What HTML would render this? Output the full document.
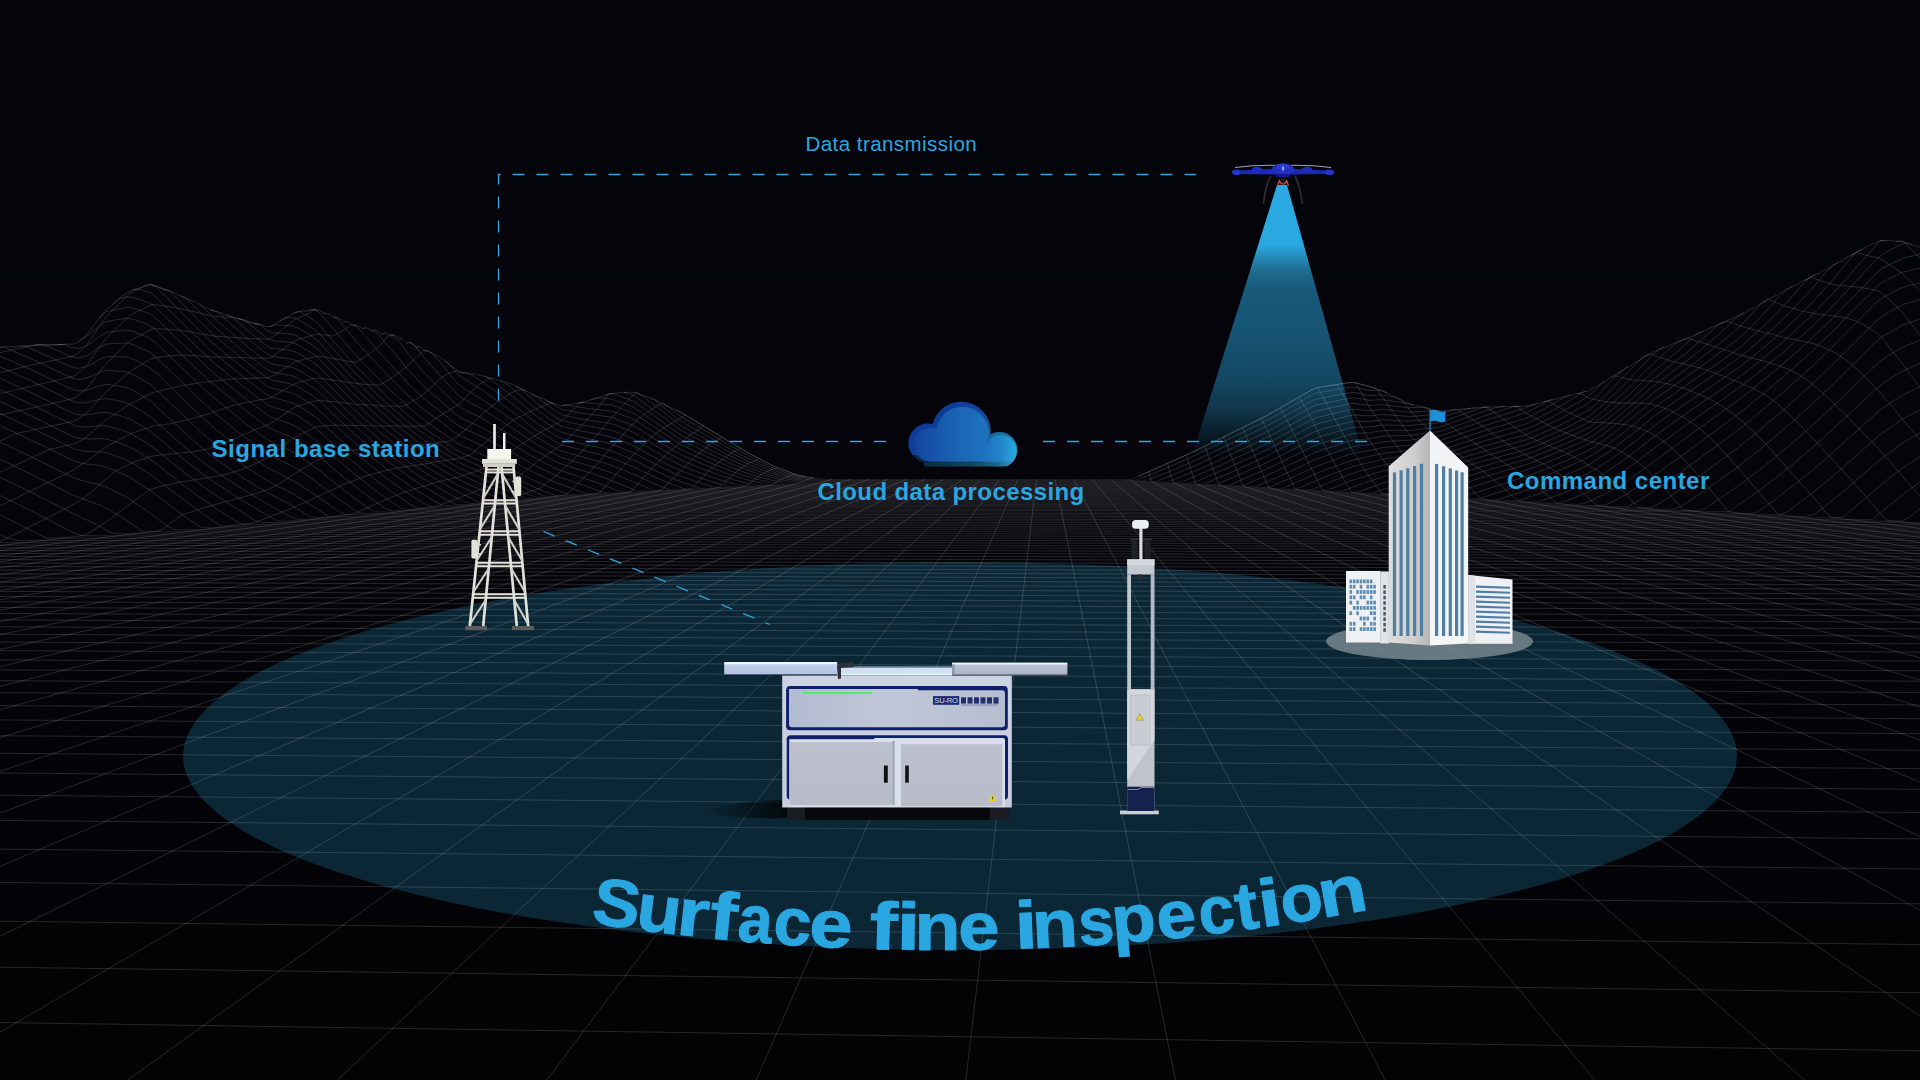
<!DOCTYPE html>
<html><head><meta charset="utf-8"><style>
html,body{margin:0;padding:0;background:#04040a;}
body{width:1920px;height:1080px;overflow:hidden;position:relative;font-family:"Liberation Sans",sans-serif;}
svg{position:absolute;left:0;top:0;}
.lbl{position:absolute;color:#2aa7e1;font-weight:bold;font-size:24px;white-space:nowrap;line-height:1;}
</style></head><body>
<svg width="1920" height="1080" viewBox="0 0 1920 1080">
<defs>
<linearGradient id="bg" x1="0" y1="0" x2="0" y2="1">
<stop offset="0" stop-color="#04040b"/><stop offset="0.45" stop-color="#04040a"/><stop offset="1" stop-color="#030305"/>
</linearGradient>
<linearGradient id="beam" x1="0" y1="185" x2="0" y2="452" gradientUnits="userSpaceOnUse">
<stop offset="0" stop-color="#2aa9e2"/><stop offset="0.225" stop-color="#2aa8e0"/><stop offset="0.32" stop-color="#1e6d90"/>
<stop offset="0.395" stop-color="#175878"/><stop offset="0.55" stop-color="#165474"/><stop offset="0.73" stop-color="#134862"/><stop offset="0.85" stop-color="#0f3348"/><stop offset="0.955" stop-color="#081620"/><stop offset="1" stop-color="#060a12"/>
</linearGradient>
</defs>
<rect width="1920" height="1080" fill="url(#bg)"/>
<ellipse cx="960" cy="756" rx="777" ry="194" fill="#0b2736"/>
<polygon points="1277,185 1287,185 1362,452 1193,452" fill="url(#beam)"/>
<g fill="none" stroke="#fff" stroke-width="1">
<path d="M814.0 477.7 L823.2 479.2 L827.9 479.3 L1125.2 479.6 L1129.8 479.5 L1134.5 478.1" stroke-opacity="0.07"/>
<path d="M811.8 478.2 L825.8 479.9 L1130.7 480.2 L1135.4 480.0 L1140.1 478.6" stroke-opacity="0.071"/>
<path d="M809.5 478.9 L823.6 480.4 L828.3 480.4 L1141.1 480.8 L1145.9 480.6 L1150.6 479.0" stroke-opacity="0.072"/>
<path d="M802.5 479.2 L826.2 481.0 L1151.7 481.4 L1156.5 481.4 L1161.4 479.6" stroke-opacity="0.073"/>
<path d="M800.1 480.0 L824.1 481.6 L1167.4 482.0 L1172.3 480.3" stroke-opacity="0.074"/>
<path d="M797.7 480.9 L821.9 482.2 L1178.5 482.7 L1183.5 481.1" stroke-opacity="0.075"/>
<path d="M790.3 481.3 L800.0 482.4 L814.7 482.9 L1189.9 483.3 L1194.9 482.0" stroke-opacity="0.077"/>
<path d="M782.7 482.0 L792.6 483.1 L802.5 483.5 L1201.5 484.0 L1206.5 482.8" stroke-opacity="0.078"/>
<path d="M770.1 482.2 L785.0 484.1 L1213.3 484.7 L1218.4 483.7" stroke-opacity="0.079"/>
<path d="M762.2 483.3 L772.2 484.8 L1225.4 485.3 L1230.5 484.7" stroke-opacity="0.08"/>
<path d="M749.0 483.7 L759.2 485.4 L1237.7 486.0 L1243.0 485.6" stroke-opacity="0.081"/>
<path d="M735.6 484.2 L740.7 485.4 L745.9 486.1 L1255.6 486.6" stroke-opacity="0.082"/>
<path d="M721.9 484.8 L727.1 486.2 L732.3 486.8 L1268.6 487.5" stroke-opacity="0.083"/>
<path d="M713.2 487.0 L718.4 487.5 L1281.9 488.3 L1287.3 486.4" stroke-opacity="0.084"/>
<path d="M698.9 487.8 L704.2 488.2 L1295.5 489.0 L1300.9 487.3" stroke-opacity="0.085"/>
<path d="M684.4 488.7 L1309.3 489.8 L1314.9 488.4" stroke-opacity="0.086"/>
<path d="M669.5 489.7 L1323.6 490.6 L1329.1 489.5" stroke-opacity="0.088"/>
<path d="M648.8 488.5 L654.3 490.5 L1338.1 491.4 L1343.8 490.6" stroke-opacity="0.089"/>
<path d="M633.2 489.4 L638.7 491.2 L1353.0 492.3 L1358.7 491.8" stroke-opacity="0.09"/>
<path d="M617.3 490.5 L622.8 492.0 L1368.3 493.2 L1374.1 492.9" stroke-opacity="0.091"/>
<path d="M600.9 491.6 L606.6 492.9 L1389.8 494.0" stroke-opacity="0.092"/>
<path d="M584.2 492.8 L589.9 493.7 L1405.9 495.0 L1411.8 493.2" stroke-opacity="0.093"/>
<path d="M567.1 493.9 L572.9 494.6 L1422.4 495.9 L1428.4 494.4" stroke-opacity="0.094"/>
<path d="M555.4 495.5 L1439.3 496.8 L1445.4 495.6" stroke-opacity="0.095"/>
<path d="M543.5 495.8 L549.4 496.4 L1456.7 497.8 L1462.9 496.8" stroke-opacity="0.096"/>
<path d="M531.3 495.8 L537.2 497.3 L1474.5 498.8 L1480.8 498.0" stroke-opacity="0.097"/>
<path d="M524.8 498.3 L1492.8 499.9 L1499.1 499.3" stroke-opacity="0.098"/>
<path d="M512.0 498.5 L518.1 499.3 L1518.0 500.8" stroke-opacity="0.1"/>
<path d="M498.8 498.5 L505.0 500.3 L1537.4 502.0 L1543.9 500.1" stroke-opacity="0.101"/>
<path d="M491.7 501.3 L1557.3 503.1 L1564.0 501.6" stroke-opacity="0.102"/>
<path d="M477.9 501.6 L484.3 502.4 L1577.8 504.3 L1584.6 503.3" stroke-opacity="0.103"/>
<path d="M463.8 501.6 L470.3 503.5 L1598.9 505.5 L1605.7 505.0" stroke-opacity="0.104"/>
<path d="M455.9 504.6 L1627.5 506.7" stroke-opacity="0.105"/>
<path d="M441.0 504.8 L447.7 505.8 L1649.9 508.0" stroke-opacity="0.106"/>
<path d="M432.6 506.9 L1673.0 509.2" stroke-opacity="0.107"/>
<path d="M417.0 508.2 L1696.8 510.6 L1704.1 509.3" stroke-opacity="0.108"/>
<path d="M401.0 508.3 L407.9 509.4 L1728.7 511.7" stroke-opacity="0.109"/>
<path d="M391.5 510.7 L1754.1 513.4" stroke-opacity="0.11"/>
<path d="M374.7 512.0 L1780.3 514.8" stroke-opacity="0.112"/>
<path d="M357.3 512.2 L364.6 513.4 L1807.3 516.3" stroke-opacity="0.113"/>
<path d="M346.8 514.8 L1835.2 517.9 L1843.1 516.9" stroke-opacity="0.114"/>
<path d="M328.5 516.3 L1872.1 519.5" stroke-opacity="0.115"/>
<path d="M309.6 516.6 L317.1 517.8 L1902.1 521.2" stroke-opacity="0.116"/>
<path d="M297.7 519.3 L1933.1 522.9" stroke-opacity="0.117"/>
<path d="M277.7 520.9 L1965.2 524.7 L1973.6 522.9" stroke-opacity="0.118"/>
<path d="M257.0 521.5 L264.9 522.6 L1998.4 526.5" stroke-opacity="0.119"/>
<path d="M243.7 524.3 L1997.7 528.3" stroke-opacity="0.12"/>
<path d="M221.7 526.1 L1997.1 530.2" stroke-opacity="0.121"/>
<path d="M199.0 526.6 L207.3 527.9 L1996.4 532.2" stroke-opacity="0.123"/>
<path d="M175.5 529.8 L1995.7 534.2" stroke-opacity="0.124"/>
<path d="M142.5 531.7 L1995.0 536.3" stroke-opacity="0.125"/>
<path d="M117.1 533.8 L1994.2 538.5" stroke-opacity="0.126"/>
<path d="M81.8 535.8 L1993.5 540.8" stroke-opacity="0.127"/>
<path d="M45.3 537.5 L54.3 538.0 L1992.7 543.1" stroke-opacity="0.128"/>
<path d="M16.5 540.3 L1991.8 545.6" stroke-opacity="0.129"/>
<path d="M-22.8 541.8 L-13.4 542.6 L1990.9 548.1" stroke-opacity="0.13"/>
<path d="M-54.1 544.9 L1990.0 550.8" stroke-opacity="0.131"/>
<path d="M-76.8 547.6 L1999.9 553.6" stroke-opacity="0.132"/>
<path d="M-70.6 550.4 L1999.1 556.5" stroke-opacity="0.133"/>
<path d="M-74.4 553.2 L1998.3 559.5" stroke-opacity="0.135"/>
<path d="M-78.2 556.2 L1997.5 562.7" stroke-opacity="0.136"/>
<path d="M-71.6 559.4 L1996.6 566.0" stroke-opacity="0.137"/>
<path d="M-75.7 562.7 L1995.7 569.5" stroke-opacity="0.138"/>
<path d="M-79.9 566.2 L1994.8 573.1" stroke-opacity="0.139"/>
<path d="M-44.8 1089.6 L1964.9 1122.4 M-76.9 1021.4 L1972.0 1051.5 M-60.9 966.4 L1977.7 993.5 M-47.6 920.6 L1982.5 945.3 M-72.1 881.6 L1986.6 904.6 M-59.9 848.5 L1990.1 869.7 M-49.4 819.9 L1993.1 839.6 M-69.1 794.6 L1995.7 813.2 M-59.2 772.5 L1998.0 790.0 M-76.2 752.7 L1971.7 769.1 M-67.0 735.2 L1975.1 750.7 M-58.8 719.5 L1978.1 734.1 M-73.3 705.1 L1980.8 719.1 M-65.5 692.2 L1983.2 705.4 M-78.5 680.2 L1985.5 693.0 M-71.1 669.4 L1987.5 681.6 M-64.4 659.5 L1989.4 671.1 M-75.9 650.2 L1991.2 661.5 M-69.5 641.7 L1992.8 652.5 M-80.0 633.8 L1994.3 644.2 M-73.8 626.4 L1995.7 636.5 M-68.1 619.6 L1997.0 629.2 M-77.6 613.1 L1998.2 622.5 M-72.2 607.1 L1999.4 616.2 M-67.0 601.5 L1985.0 610.2 M-75.7 596.1 L1986.5 604.6 M-70.8 591.1 L1987.9 599.3 M-78.9 586.4 L1989.2 594.3 M-74.2 581.9 L1990.4 589.6 M-69.6 577.7 L1991.6 585.2 M-77.2 573.6 L1992.7 580.9 M-72.8 569.8 L1993.8 576.9 M-73.2 535.5 L-54.1 544.9 M-79.1 514.4 L-22.8 541.8 M-75.6 497.8 L-29.6 519.8 L7.3 538.1 L16.5 540.3 M-72.2 480.3 L-9.0 510.2 L45.3 537.5 M-77.8 459.2 L1.9 496.4 L37.4 514.0 L72.9 532.4 L81.8 535.8 M-74.5 442.8 L-13.7 470.7 L21.1 487.3 L73.4 513.6 L90.9 521.8 L99.6 526.3 L108.4 531.6 L117.1 533.8 M-79.8 422.7 L-62.8 430.9 L5.4 461.9 L31.0 474.1 L73.8 495.5 L99.6 505.1 L108.2 509.2 L125.3 519.6 L142.5 531.7 M-76.6 407.2 L-59.9 415.3 L7.1 445.4 L32.2 457.3 L74.3 478.0 L82.7 480.7 L99.5 484.8 L108.0 487.8 L124.8 496.3 L133.3 501.5 L150.1 513.2 L167.0 525.8 L175.5 529.8 M-73.5 392.6 L-57.1 400.4 L0.5 425.8 L33.4 441.2 L74.7 461.3 L82.9 463.5 L99.5 465.5 L107.8 467.5 L124.3 474.5 L132.6 478.9 L149.2 489.7 L182.4 514.7 L199.0 526.6 M-78.6 378.3 L-62.5 386.1 L2.2 414.3 L34.5 429.5 L75.1 449.2 L83.2 451.0 L91.3 451.6 L99.5 451.7 L107.6 453.0 L123.8 459.0 L132.0 462.9 L148.3 473.0 L197.2 509.8 L213.6 521.2 L221.7 526.1 M-75.5 368.3 L-59.7 375.8 L-28.0 389.2 L3.8 403.2 L27.7 414.3 L67.5 433.9 L75.5 437.5 L83.4 438.9 L91.4 439.0 L99.4 438.5 L107.4 439.2 L123.4 444.4 L131.4 447.9 L147.4 457.5 L155.4 463.2 L187.5 488.2 L211.5 505.5 L235.7 521.4 L243.7 524.3 M-72.6 358.4 L-57.0 365.7 L-25.9 378.6 L5.4 392.2 L28.8 403.1 L68.0 422.5 L75.8 426.0 L83.7 427.0 L91.5 426.7 L99.4 425.6 L107.2 425.9 L122.9 430.4 L130.8 433.5 L146.5 442.9 L154.4 448.3 L185.9 473.7 L209.6 491.2 L233.3 506.7 L257.0 521.5 M-69.8 352.1 L-62.1 352.3 L-8.5 374.6 L30.0 392.0 L68.5 411.1 L76.2 414.4 L83.9 415.1 L91.6 414.2 L99.3 412.7 L107.1 412.4 L122.5 416.4 L130.2 419.1 L145.7 428.4 L153.5 433.7 L184.4 459.9 L200.0 472.0 L215.5 483.2 L246.6 503.0 L269.9 516.8 L277.7 520.9 M1973.6 522.9 L1999.0 504.9 M-44.5 350.8 L-36.9 351.6 L0.8 367.3 L31.1 380.9 L69.0 399.7 L76.5 402.6 L84.1 403.0 L91.7 401.5 L99.3 399.3 L106.9 398.5 L122.1 401.7 L129.7 404.2 L144.9 413.2 L152.5 418.3 L167.8 432.2 L190.6 452.1 L205.9 464.4 L221.2 475.4 L244.1 490.1 L267.1 503.7 L290.0 516.6 L297.7 519.3 M1933.1 522.9 L1941.4 519.7 L1966.3 501.2 L1999.6 478.8 M-27.3 349.4 L-19.9 348.6 L-12.5 350.7 L32.2 370.1 L69.4 388.2 L76.9 390.8 L84.3 390.7 L91.8 388.6 L99.3 385.8 L106.7 384.3 L121.7 386.6 L129.2 388.5 L136.7 392.5 L151.6 401.8 L189.1 436.7 L204.1 449.8 L219.2 461.5 L241.7 477.0 L256.8 486.4 L271.8 495.1 L286.9 502.8 L294.5 507.1 L309.6 516.6 M1902.1 521.2 L1910.2 516.4 L1926.5 503.6 L1951.0 485.8 L1967.4 474.8 L1991.9 459.6 M-3.4 347.4 L3.9 347.0 L33.2 359.7 L69.9 377.1 L77.2 379.3 L84.5 378.7 L91.9 376.0 L99.2 372.4 L106.6 370.2 L121.3 371.3 L128.7 372.6 L136.0 376.1 L150.8 384.7 L202.4 433.4 L217.2 445.9 L232.0 457.1 L254.2 472.4 L269.1 481.7 L291.3 492.9 L298.7 497.3 L328.5 516.3 M1872.1 519.5 L1904.2 493.4 L1928.3 475.9 L1944.3 465.1 L1960.4 455.1 L1992.6 436.5 M19.8 345.9 L27.0 346.7 L70.3 366.6 L77.5 368.3 L84.7 367.2 L92.0 363.9 L99.2 359.6 L106.5 356.7 L120.9 356.7 L128.2 357.2 L135.4 360.1 L142.7 363.9 L149.9 367.7 L157.2 373.9 L193.5 409.2 L215.3 429.1 L244.5 451.7 L266.4 467.0 L295.6 482.1 L317.5 496.5 L339.5 512.0 L346.8 514.8 M1843.1 516.9 L1882.5 483.7 L1898.3 471.3 L1906.2 465.6 L1929.9 450.3 L1945.7 440.7 L1961.6 431.8 L1993.3 414.9 M35.2 345.4 L42.3 344.7 L49.4 347.0 L70.7 356.6 L77.8 358.0 L84.9 356.5 L92.1 352.6 L99.2 347.7 L106.3 344.1 L113.4 343.4 L127.7 343.0 L134.8 345.3 L149.1 351.9 L156.3 357.4 L199.2 398.9 L213.5 412.1 L242.2 435.2 L263.7 451.1 L270.9 455.8 L292.5 466.1 L299.7 470.6 L314.1 480.4 L335.7 496.8 L357.3 512.2 M1807.3 516.3 L1815.1 514.1 L1822.8 508.2 L1846.1 489.2 L1877.1 462.2 L1884.9 456.0 L1900.4 444.6 L1908.2 439.7 L1939.3 421.9 L1993.9 394.0 M57.1 344.8 L64.1 344.4 L71.1 347.4 L78.1 348.4 L85.1 346.5 L92.1 342.1 L99.2 336.7 L106.2 332.5 L113.2 331.4 L127.2 330.0 L134.3 331.7 L148.3 337.5 L155.4 342.4 L211.7 396.1 L247.1 424.6 L268.3 440.4 L289.5 450.2 L296.6 454.0 L303.7 458.9 L317.9 469.1 L339.2 486.5 L353.4 497.4 L367.6 507.6 L374.7 512.0 M1780.3 514.8 L1787.9 511.6 L1810.8 494.3 L1833.6 475.6 L1879.5 435.1 L1902.4 419.1 L1940.8 399.1 L1986.9 377.2 L1994.5 373.1 M78.4 341.7 L92.2 332.4 L99.1 326.6 L106.0 321.8 L113.0 320.4 L126.8 318.2 L133.7 319.3 L147.6 324.6 L154.5 328.8 L210.0 381.6 L251.8 415.2 L265.7 425.6 L272.7 429.6 L286.6 435.1 L293.6 438.3 L300.6 442.7 L314.6 452.5 L342.5 476.4 L363.5 493.0 L384.5 508.0 L391.5 510.7 M1754.1 513.4 L1761.6 509.1 L1776.6 498.4 L1806.6 475.1 L1829.1 456.0 L1874.3 415.1 L1881.8 408.6 L1889.3 403.6 L1904.4 394.1 L1942.2 376.2 L1987.6 355.6 L1995.1 351.5 M99.1 318.2 L105.9 311.9 L126.4 307.3 L133.2 307.9 L146.8 312.7 L153.7 316.3 L208.4 368.4 L215.2 374.5 L249.5 401.8 L270.1 416.7 L290.7 424.1 L297.6 427.6 L311.3 437.0 L318.2 442.3 L338.9 460.8 L359.6 478.3 L380.3 494.1 L401.0 508.3 M1728.7 511.7 L1758.2 491.2 L1780.3 474.3 L1795.1 462.4 L1824.7 436.8 L1876.6 388.4 L1884.0 382.6 L1898.9 373.1 L1906.3 369.3 L1951.0 349.7 L1988.3 333.9 L1995.7 330.0 M112.5 304.7 L119.2 298.6 L125.9 297.0 L132.7 297.2 L146.1 301.7 L152.8 304.7 L213.5 362.6 L247.3 389.6 L267.6 404.7 L274.3 407.6 L287.9 411.6 L294.7 414.3 L301.4 418.3 L315.0 427.6 L348.9 458.1 L369.3 474.9 L382.9 485.5 L396.6 495.2 L410.2 504.3 L417.0 508.2 M1704.1 509.3 L1740.4 484.4 L1762.2 467.8 L1784.0 450.1 L1805.9 431.2 L1827.8 411.3 L1878.9 362.1 L1886.2 357.0 L1900.9 348.2 L1908.2 345.0 L1952.2 327.2 L1988.9 313.1 L1996.3 309.3 M132.2 289.8 L138.8 289.0 L152.0 293.6 L211.8 351.4 L251.8 383.6 L265.1 393.4 L271.8 397.3 L291.8 402.6 L298.5 405.8 L311.9 414.5 L318.5 419.5 L338.6 438.1 L358.7 456.0 L385.5 477.4 L405.7 491.9 L419.1 500.6 L425.8 504.6 L432.6 506.9 M1673.0 509.2 L1680.2 507.0 L1708.8 487.8 L1737.4 467.1 L1766.1 444.3 L1794.8 419.7 L1816.3 400.1 L1830.7 386.5 L1873.9 343.8 L1881.1 337.3 L1902.8 324.8 L1917.2 319.9 L1953.4 306.5 L1989.6 294.0 L1996.8 290.4 M151.3 284.4 L157.8 288.9 L210.2 340.8 L223.3 351.9 L249.6 373.1 L269.3 387.5 L289.1 392.3 L295.6 394.5 L315.4 406.9 L355.0 443.2 L381.4 464.9 L394.7 474.9 L414.5 488.9 L427.8 497.2 L441.0 504.8 M1649.9 508.0 L1657.0 504.9 L1664.0 500.5 L1692.2 481.4 L1734.5 450.4 L1755.7 433.5 L1784.0 409.5 L1812.3 383.9 L1833.6 363.5 L1876.2 320.8 L1883.3 315.2 L1897.5 307.2 L1904.6 304.0 L1918.9 299.9 L1954.5 288.2 L1983.1 279.4 L1990.2 277.1 L1997.4 273.6 M163.4 289.1 L169.9 291.0 L202.2 323.7 L215.1 336.2 L247.5 362.9 L266.9 377.7 L273.4 380.5 L286.4 382.9 L292.9 384.5 L299.4 387.6 L312.4 395.7 L318.9 400.5 L338.4 419.1 L357.9 436.9 L377.5 453.0 L390.5 463.2 L410.1 477.6 L423.2 486.3 L442.8 497.8 L455.9 504.6 M1627.5 506.7 L1634.4 503.1 L1648.3 494.7 L1676.1 475.8 L1738.6 429.5 L1752.6 418.3 L1787.4 388.6 L1815.4 363.3 L1829.4 349.9 L1878.4 300.6 L1885.4 296.1 L1899.4 288.7 L1906.4 286.2 L1920.5 282.8 L1990.8 261.7 L1997.9 262.6 M181.6 296.1 L188.0 299.9 L213.5 326.1 L245.4 353.0 L264.6 367.9 L271.0 371.9 L290.2 375.3 L296.6 377.4 L315.8 389.2 L354.3 425.4 L380.0 447.0 L392.9 457.2 L412.2 471.3 L425.1 479.9 L450.9 494.9 L463.8 501.6 M1605.7 505.0 L1619.4 498.1 L1626.2 494.2 L1646.7 480.9 L1687.8 451.3 L1735.8 415.8 L1749.5 405.0 L1783.9 376.4 L1811.5 351.8 L1832.2 332.0 L1859.8 303.7 L1880.5 283.4 L1901.3 272.7 L1908.2 270.8 L1922.0 267.7 L1956.7 257.4 L1963.7 256.2 L1970.6 258.8 M199.3 304.0 L205.6 309.5 L211.9 315.9 L218.2 321.6 L237.1 337.8 L249.7 348.4 L268.6 363.0 L274.9 364.6 L287.6 366.5 L293.9 367.9 L300.2 371.0 L312.8 378.8 L319.2 383.6 L338.1 402.2 L357.1 420.1 L382.5 441.6 L407.9 461.1 L427.0 473.9 L446.1 485.2 L458.8 492.2 L477.9 501.6 M1584.6 503.3 L1591.3 500.5 L1604.7 494.1 L1618.2 486.5 L1631.7 477.8 L1706.0 423.4 L1739.8 399.1 L1746.6 393.8 L1780.5 366.1 L1807.7 342.2 L1828.1 322.9 L1875.8 273.8 L1882.6 268.1 L1903.1 258.0 L1916.7 255.0 L1930.4 251.0 L1937.2 250.7 M210.4 309.8 L216.6 311.5 L247.6 338.5 L266.3 353.4 L272.5 356.5 L291.2 358.9 L297.5 361.1 L316.2 372.7 L347.4 403.3 L359.9 414.9 L384.9 436.2 L416.3 460.1 L428.8 468.3 L453.9 483.1 L460.2 486.5 L491.7 501.3 M1564.0 501.6 L1577.2 496.5 L1590.5 490.8 L1603.8 483.7 L1617.1 475.6 L1630.4 466.4 L1650.3 451.1 L1683.6 426.8 L1743.7 384.3 L1783.9 351.8 L1810.7 327.7 L1830.8 308.1 L1877.9 257.8 L1884.6 253.1 L1898.1 245.8 L1904.8 242.9 L1911.6 244.5 M227.3 315.0 L233.4 318.0 L251.8 333.9 L264.1 343.8 L270.2 348.1 L288.7 350.2 L294.8 351.6 L301.0 354.8 L313.3 362.3 L319.4 367.2 L350.3 398.4 L368.8 415.3 L387.3 431.1 L412.0 450.4 L424.4 459.1 L455.4 477.8 L498.8 498.5 M1543.9 500.1 L1563.6 492.9 L1583.2 484.6 L1589.7 481.6 L1602.9 474.1 L1622.5 461.0 L1635.6 451.1 L1655.4 435.6 L1675.1 421.3 L1740.9 375.9 L1760.7 360.3 L1780.6 343.8 L1800.4 326.1 L1813.6 313.4 L1833.5 292.9 L1880.0 240.7 L1886.6 240.6 M237.7 318.8 L243.7 320.0 L249.8 324.3 L268.0 339.1 L274.0 340.8 L292.2 342.5 L298.3 344.9 L310.5 352.2 L316.5 356.3 L353.0 393.6 L371.3 410.2 L383.5 421.0 L407.9 440.8 L420.1 449.8 L456.8 472.6 L512.0 498.5 M1518.0 500.8 L1543.8 492.0 L1563.2 484.4 L1582.5 476.0 L1589.0 473.0 L1595.5 469.2 L1608.4 460.9 L1621.4 451.7 L1634.3 441.8 L1653.8 426.1 L1673.2 412.2 L1738.2 368.0 L1751.3 357.9 L1764.3 347.1 L1783.9 330.1 L1796.9 317.8 L1810.0 304.7 L1829.6 283.6 L1855.8 252.3 L1862.3 249.1 M253.8 323.4 L259.8 324.5 L265.8 329.4 L271.7 332.8 L289.7 333.9 L295.7 335.2 L313.7 345.8 L319.7 350.9 L349.7 382.7 L367.8 399.9 L391.8 421.1 L415.9 440.5 L428.0 448.9 L458.2 467.6 L512.6 493.1 L524.8 498.3 M1499.1 499.3 L1537.3 486.5 L1569.2 473.7 L1588.3 465.0 L1594.7 461.2 L1607.4 452.7 L1620.2 443.4 L1633.0 433.4 L1652.2 417.6 L1677.8 399.5 L1735.6 360.1 L1748.4 350.2 L1761.3 339.1 L1780.6 321.4 L1799.9 301.9 L1812.8 287.7 L1825.7 272.6 L1832.2 265.9 L1838.7 262.1 M269.5 326.6 L275.4 325.0 L287.3 325.4 L293.2 326.1 L299.1 328.5 L310.9 335.7 L316.9 339.8 L352.4 377.8 L358.4 383.8 L382.1 406.0 L400.0 420.9 L405.9 426.3 L423.8 440.0 L459.5 462.7 L477.4 470.7 L513.3 487.8 L531.3 495.8 M1480.8 498.0 L1524.7 483.8 L1549.8 474.3 L1568.7 466.4 L1587.6 457.8 L1600.2 449.9 L1619.1 436.1 L1631.7 426.1 L1650.7 410.2 L1657.0 405.5 L1720.3 361.6 L1739.3 347.9 L1758.4 331.0 L1777.5 312.2 L1790.2 298.6 L1802.9 284.0 L1809.3 278.0 L1815.6 274.3 M279.0 321.9 L284.9 318.1 L290.7 317.3 L296.6 318.6 L314.1 329.1 L319.9 334.3 L355.1 372.9 L384.4 401.1 L407.9 421.6 L419.7 430.9 L455.0 454.5 L460.9 457.9 L478.5 465.6 L519.9 485.6 L543.5 495.8 M1462.9 496.8 L1531.0 474.8 L1549.6 467.6 L1568.3 459.8 L1586.9 451.2 L1593.1 447.6 L1605.6 438.9 L1618.0 429.5 L1655.5 398.7 L1711.7 358.8 L1736.8 339.9 L1743.0 334.5 L1755.6 322.3 L1768.1 309.0 L1780.7 294.9 L1786.9 289.4 L1793.2 285.8 M294.1 312.8 L299.9 311.6 L311.4 318.6 L317.2 322.7 L351.9 361.8 L369.2 379.4 L386.6 396.1 L409.8 416.8 L421.4 426.2 L427.3 430.3 L456.3 449.9 L462.1 453.0 L479.6 460.6 L532.1 486.2 L543.8 491.1 L555.4 495.5 M1445.4 495.6 L1488.2 481.8 L1531.0 468.6 L1549.4 461.4 L1567.8 453.7 L1586.2 445.3 L1592.4 441.9 L1604.7 433.1 L1617.0 423.6 L1653.9 392.5 L1691.0 365.7 L1721.9 341.9 L1740.4 326.0 L1759.0 305.9 L1765.2 300.9 M308.8 310.1 L314.5 309.5 L320.2 313.5 L354.5 353.7 L383.1 383.3 L411.7 409.9 L423.2 419.4 L428.9 423.5 L457.6 443.5 L480.6 453.8 L532.5 479.9 L549.8 487.4 L567.1 493.9 M1428.4 494.4 L1488.7 475.5 L1525.0 465.0 L1531.0 462.9 L1567.4 448.2 L1585.6 439.9 L1591.7 436.6 L1603.8 427.8 L1616.0 418.2 L1634.2 402.9 L1652.5 386.7 L1689.0 359.1 L1701.2 349.3 L1719.5 333.9 L1737.9 316.8 L1744.0 312.8 M334.4 316.5 L340.0 321.8 L357.0 342.3 L368.3 354.7 L385.3 372.8 L407.9 395.3 L419.2 405.6 L424.9 410.3 L441.9 422.5 L453.3 431.3 L458.9 435.2 L481.7 445.2 L538.6 474.9 L555.7 482.5 L584.2 492.8 M1411.8 493.2 L1483.3 471.4 L1525.1 459.7 L1531.1 457.6 L1567.0 443.1 L1585.0 434.9 L1591.0 431.7 L1603.0 422.8 L1621.0 408.2 L1633.0 397.7 L1651.0 381.0 L1687.1 352.2 L1705.2 336.5 L1717.3 325.4 L1723.3 322.4 M353.9 324.8 L359.5 329.4 L381.8 355.1 L398.6 372.8 L409.8 385.2 L415.4 390.7 L426.6 400.8 L437.8 409.3 L454.6 423.0 L460.2 426.9 L482.6 436.8 L510.7 451.8 L533.3 464.6 L550.1 472.9 L561.4 477.7 L584.0 485.3 L600.9 491.6 M1389.8 494.0 L1407.4 488.3 L1442.7 478.5 L1483.9 465.9 L1525.2 454.7 L1537.0 450.4 L1554.7 443.2 L1584.3 430.0 L1590.3 426.8 L1608.1 413.0 L1619.9 403.0 L1631.8 392.2 L1649.6 375.0 L1685.3 344.7 L1697.2 333.8 L1703.2 331.2 M372.9 330.0 L378.4 334.4 L383.9 341.2 L400.5 360.2 L406.1 367.3 L422.6 385.2 L455.9 414.5 L461.4 418.2 L483.6 428.4 L511.4 443.9 L533.6 457.2 L555.9 468.5 L561.5 470.8 L594.9 481.8 L617.3 490.5 M1374.1 492.9 L1385.6 488.7 L1397.2 485.1 L1443.7 473.0 L1484.5 460.7 L1525.3 449.9 L1537.0 445.5 L1554.5 438.3 L1583.7 424.9 L1589.6 421.7 L1601.3 412.7 L1624.8 391.8 L1654.1 362.6 L1677.6 342.0 L1683.5 339.6 M391.5 335.0 L397.0 338.7 L407.9 353.4 L424.3 372.9 L457.1 405.3 L462.6 408.9 L479.1 416.8 L484.6 419.9 L512.0 436.0 L534.0 450.0 L556.0 461.8 L561.5 464.1 L594.6 474.3 L605.6 478.1 L633.2 489.4 M1358.7 491.8 L1375.9 485.5 L1387.4 481.8 L1398.8 478.7 L1439.0 469.4 L1485.0 455.7 L1525.4 445.0 L1542.7 438.2 L1565.8 428.0 L1588.9 416.3 L1594.7 411.8 L1606.3 401.8 L1623.7 385.2 L1635.3 373.3 L1652.7 354.5 L1658.5 349.8 L1664.3 347.1 M409.7 341.8 L415.1 346.0 L425.9 359.6 L458.4 395.5 L463.8 399.1 L480.1 407.8 L485.5 411.2 L512.6 428.2 L534.3 442.9 L550.7 452.2 L561.5 457.6 L594.2 467.1 L610.6 472.4 L648.8 488.5 M1343.8 490.6 L1360.7 484.0 L1383.4 476.8 L1394.7 474.0 L1440.1 464.3 L1485.6 450.6 L1525.5 440.0 L1531.2 437.9 L1548.3 430.4 L1565.4 422.4 L1588.3 410.3 L1594.0 405.7 L1605.5 395.3 L1616.9 383.9 L1639.8 359.7 L1645.6 355.8 M427.5 350.7 L432.8 353.8 L438.2 359.7 L454.2 379.9 L459.6 385.7 L481.0 398.7 L513.2 420.4 L534.7 435.9 L550.8 445.6 L556.2 448.7 L561.6 451.1 L599.3 461.5 L610.1 464.8 L631.7 473.5 L653.3 483.3 L669.5 489.7 M1329.1 489.5 L1351.5 480.5 L1379.5 471.9 L1390.7 469.2 L1441.1 459.3 L1486.1 445.5 L1525.6 434.8 L1531.2 432.6 L1559.4 419.3 L1587.7 403.8 L1593.3 399.2 L1599.0 393.8 L1616.0 376.1 L1621.6 371.0 L1627.3 366.9 M444.9 360.9 L450.2 365.0 L455.5 371.4 L460.8 376.8 L482.0 390.0 L513.8 412.8 L535.0 429.0 L556.3 442.3 L561.6 444.8 L598.9 454.4 L609.6 457.4 L614.9 459.3 L630.9 465.9 L663.0 480.7 L673.7 485.0 L684.4 488.7 M1314.9 488.4 L1342.5 477.1 L1353.5 473.0 L1359.1 471.4 L1386.7 464.3 L1408.9 460.7 L1442.2 454.3 L1486.6 440.3 L1525.6 429.4 L1536.8 424.5 L1553.5 416.2 L1564.7 410.2 L1581.5 400.4 L1587.1 396.9 L1592.6 392.3 L1598.2 386.6 L1603.8 381.8 M461.9 372.7 L467.2 373.1 L472.4 375.5 L482.9 382.1 L509.1 401.3 L535.4 422.2 L556.4 436.0 L561.7 438.6 L582.7 444.0 L603.8 448.8 L614.3 452.0 L635.4 460.8 L651.3 468.9 L672.4 478.6 L683.0 482.6 L698.9 487.8 M1300.9 487.3 L1328.2 475.7 L1350.0 467.5 L1355.5 465.8 L1382.9 459.3 L1393.8 457.4 L1410.3 455.4 L1437.7 450.6 L1443.2 449.2 L1487.2 435.0 L1525.7 423.9 L1531.2 421.5 L1547.8 413.0 L1564.3 403.7 L1580.9 393.4 L1586.5 391.1 M483.8 375.8 L489.0 378.7 L509.7 393.9 L535.7 415.5 L556.5 429.8 L561.7 432.4 L582.5 437.6 L603.4 441.9 L613.8 444.8 L634.7 453.4 L660.8 467.1 L676.5 474.5 L692.2 480.4 L713.2 487.0 M1287.3 486.4 L1319.6 472.1 L1352.1 460.2 L1384.5 453.2 L1411.6 450.1 L1438.7 445.6 L1444.2 444.1 L1487.7 429.7 L1525.8 418.4 L1531.3 415.9 L1542.2 410.0 L1564.0 397.3 L1569.5 395.3 M500.0 380.6 L505.2 383.1 L510.3 386.9 L530.9 404.7 L541.1 412.8 L556.6 423.7 L561.7 426.4 L582.3 431.3 L602.9 435.1 L613.3 437.7 L633.9 446.0 L664.9 463.1 L680.5 470.6 L701.2 478.3 L721.9 484.8 M1268.6 487.5 L1289.9 478.4 L1316.6 466.2 L1348.7 454.6 L1354.0 453.1 L1370.1 450.5 L1380.8 448.0 L1391.5 446.7 L1407.6 445.5 L1439.8 440.6 L1482.8 426.2 L1525.9 412.9 L1531.3 410.3 L1547.5 401.1 L1552.9 399.5 M516.0 386.0 L521.1 389.3 L531.2 398.4 L541.4 406.6 L556.7 417.8 L561.8 420.5 L582.1 425.1 L602.5 428.5 L612.7 430.8 L633.2 438.8 L663.8 456.5 L679.2 464.6 L694.6 470.8 L710.0 476.5 L725.3 481.4 L735.6 484.2 M1255.6 486.6 L1282.0 475.3 L1313.6 460.3 L1329.5 454.4 L1350.6 447.3 L1355.9 446.2 L1371.8 444.2 L1382.4 442.0 L1393.0 441.0 L1408.9 440.3 L1440.8 435.7 L1483.3 421.1 L1520.6 409.4 L1526.0 407.6 L1531.3 405.0 L1536.6 403.6 M531.6 393.8 L536.6 396.7 L556.8 412.1 L561.8 414.8 L581.9 419.1 L607.2 422.9 L612.2 424.0 L617.3 425.8 L632.4 431.8 L667.9 452.9 L678.0 458.5 L683.0 460.9 L698.3 467.2 L718.6 474.9 L733.8 479.8 L749.0 483.7 M1243.0 485.6 L1274.2 472.2 L1316.0 452.1 L1347.4 441.7 L1352.6 440.2 L1368.3 438.8 L1384.0 436.1 L1410.2 435.3 L1436.5 431.9 L1441.8 430.9 L1483.9 416.0 L1510.2 407.7 L1515.5 406.3 L1520.8 406.2 M546.9 400.6 L551.9 402.9 L556.8 406.6 L561.8 409.3 L581.8 413.3 L601.7 415.8 L611.7 417.4 L626.7 423.0 L631.7 424.9 L636.7 427.6 L671.8 449.6 L681.8 455.1 L686.8 457.4 L711.9 467.9 L727.0 473.6 L747.1 479.9 L762.2 483.3 M1230.5 484.7 L1271.8 466.7 L1313.1 446.3 L1323.4 442.5 L1349.3 434.6 L1354.5 433.5 L1370.0 432.7 L1380.4 430.9 L1390.8 430.3 L1411.5 430.3 L1437.5 427.3 L1442.7 426.1 L1484.4 411.2 L1494.8 407.8 L1500.0 406.7 L1505.2 406.5 M561.9 405.7 L566.8 404.9 L581.6 407.7 L611.2 411.1 L616.2 412.7 L631.0 418.3 L636.0 420.8 L675.6 446.5 L680.6 449.4 L690.5 454.0 L715.3 464.9 L735.2 472.6 L755.1 478.8 L770.1 482.2 M1218.4 483.7 L1269.4 461.4 L1315.4 438.2 L1341.0 430.4 L1351.2 427.6 L1356.3 427.1 L1366.6 427.1 L1371.7 426.7 L1382.0 425.2 L1392.2 425.1 L1407.7 425.7 L1438.5 422.8 L1443.7 421.4 L1479.7 408.3 L1484.9 407.1 L1490.0 406.9 M576.5 403.3 L581.4 402.4 L610.8 404.9 L615.7 406.4 L630.3 411.8 L635.2 414.2 L679.4 443.7 L694.1 450.9 L723.6 464.2 L743.3 471.9 L753.2 475.2 L763.0 478.0 L772.9 480.4 L782.7 482.0 M1206.5 482.8 L1231.7 472.0 L1267.0 456.1 L1312.5 432.6 L1317.6 430.5 L1327.7 427.6 L1353.1 421.1 L1368.3 421.5 L1383.5 419.8 L1409.0 421.1 L1439.5 418.3 L1465.0 409.4 L1470.1 408.3 L1475.2 407.9 M590.9 399.9 L595.8 398.2 L600.6 398.1 L610.3 398.9 L615.1 400.2 L629.7 405.5 L634.5 407.7 L678.2 438.1 L683.1 440.8 L717.1 457.3 L736.6 465.9 L756.1 473.2 L775.6 478.8 L790.3 481.3 M1194.9 482.0 L1224.8 469.2 L1264.7 450.9 L1309.8 427.3 L1314.8 424.8 L1319.8 423.2 L1349.9 415.5 L1354.9 415.0 L1370.0 415.9 L1380.0 414.7 L1385.1 414.6 L1410.2 416.6 L1440.4 414.0 L1450.5 410.5 L1455.6 409.6 M605.0 395.3 L609.8 393.7 L614.6 394.2 L633.8 401.4 L653.0 414.8 L672.2 429.0 L681.9 435.5 L720.4 454.9 L734.9 461.6 L754.2 469.7 L773.5 476.2 L783.1 478.4 L797.7 480.9 M1183.5 481.1 L1213.1 468.6 L1262.5 445.8 L1277.3 438.2 L1312.0 419.5 L1317.0 417.5 L1351.7 409.2 L1356.7 409.3 L1366.7 410.5 L1371.6 410.5 L1381.6 409.5 L1391.5 410.2 L1406.5 412.0 L1411.5 412.1 L1436.4 410.5 L1441.4 410.8 M623.6 392.5 L628.4 393.3 L633.1 395.2 L637.9 398.3 L680.7 430.1 L728.4 455.1 L752.3 466.1 L771.4 473.4 L785.7 477.2 L800.1 480.0 M1172.3 480.3 L1201.6 468.2 L1255.4 443.2 L1270.1 436.0 L1314.2 412.1 L1319.1 410.5 L1348.6 404.0 L1353.5 403.4 L1368.3 405.4 L1383.1 404.6 L1407.7 407.8 L1422.5 407.2 L1427.5 408.2 M637.1 393.2 L641.9 395.7 L656.0 406.2 L679.5 424.7 L726.7 450.6 L750.4 462.4 L774.1 472.3 L793.0 477.4 L802.5 479.2 M1161.4 479.6 L1195.2 465.7 L1253.3 438.4 L1267.8 431.3 L1311.5 407.2 L1316.4 405.0 L1350.4 398.0 L1355.3 398.0 L1369.9 400.4 L1379.7 399.7 L1384.6 399.9 L1409.0 403.7 L1413.9 405.1 M650.4 398.0 L655.1 400.3 L673.7 415.7 L678.4 419.4 L683.1 422.4 L729.8 448.8 L748.6 458.6 L767.3 467.4 L776.7 471.2 L795.5 476.7 L800.2 477.8 L809.5 478.9 M1150.6 479.0 L1165.0 473.4 L1188.9 463.3 L1222.4 447.6 L1265.6 426.7 L1313.7 400.0 L1318.5 398.5 L1352.2 392.4 L1357.1 392.9 L1366.7 395.1 L1371.5 395.5 L1381.2 394.9 L1386.0 395.5 L1395.7 397.3 L1400.5 399.8 M663.4 403.7 L668.1 406.4 L677.3 414.1 L681.9 417.4 L705.1 430.6 L728.2 444.5 L756.0 459.7 L774.6 468.6 L779.3 470.3 L797.8 476.2 L811.8 478.2 M1140.1 478.6 L1154.3 473.1 L1187.5 458.9 L1215.9 445.4 L1268.2 419.8 L1311.0 395.5 L1315.8 393.2 L1349.2 387.3 L1354.0 387.1 L1368.3 390.5 L1377.9 390.3 L1382.7 390.9 L1387.4 393.3 M676.2 410.1 L680.8 412.3 L703.7 425.9 L726.6 440.1 L749.6 453.6 L772.6 465.7 L777.2 467.8 L795.6 474.3 L800.2 475.6 L814.0 477.7 M1134.5 478.1 L1195.5 450.8 L1266.0 416.0 L1313.2 389.1 L1317.9 387.5 L1351.0 382.4 L1355.7 382.8 L1369.9 386.7 L1374.6 388.3 M-78.9 352.0 L-60.8 352.1 M-75.5 368.3 L-57.0 365.7 L3.1 351.9 L34.7 345.1 L38.5 344.7 L64.4 344.8 M-76.8 388.0 L-57.7 385.3 L-30.3 379.6 L32.7 364.9 L70.7 356.6 L74.4 355.5 L78.0 353.1 L81.6 349.9 L85.1 346.5 L88.7 342.3 L102.6 321.3 L106.0 316.8 L129.2 294.1 L132.4 292.0 L145.1 285.9 L148.2 284.8 L151.3 284.4 L154.3 285.1 L166.4 290.5 M-78.2 414.9 L-48.9 403.9 L9.7 391.3 L54.5 380.9 L73.6 376.0 L77.4 373.7 L84.7 367.2 L88.4 363.2 L102.7 342.6 L106.2 338.2 L126.8 318.2 L130.1 315.4 L133.5 313.5 L149.7 305.6 L152.8 304.7 L156.0 304.8 L180.4 308.6 L211.9 315.9 L238.6 318.5 L258.7 324.7 M-79.7 444.8 L-59.3 436.9 L-16.0 418.3 L57.1 402.5 L72.8 398.6 L76.7 396.7 L84.3 390.7 L88.1 387.0 L102.9 367.5 L106.5 363.3 L127.7 343.0 L131.1 340.3 L151.2 329.3 L154.5 328.8 L161.0 328.9 L179.8 330.2 L215.1 336.2 L250.2 338.7 L268.0 339.1 L270.4 338.3 L272.9 336.8 L294.3 320.0 L296.6 318.6 L310.1 313.1 L312.3 310.7 L314.5 309.5 L316.7 309.4 M-75.9 473.9 L-49.9 463.2 L16.9 433.4 L68.0 422.5 L72.0 421.6 L76.0 420.2 L83.9 415.1 L87.8 411.9 L103.1 395.1 L106.8 391.4 L128.7 372.6 L132.2 370.1 L149.5 359.6 L152.9 358.1 L169.5 355.9 L182.2 355.1 L194.7 355.4 L212.7 356.9 L267.5 358.3 L270.0 357.8 L272.5 356.5 L292.2 342.5 L297.0 340.0 L313.2 335.0 L317.7 334.1 L333.1 336.1 L341.5 331.3 L351.8 324.4 L355.9 324.9 M-77.3 506.4 L-61.0 500.0 L-40.0 490.7 L49.9 449.3 L71.1 444.6 L75.3 443.3 L83.4 438.9 L87.5 436.2 L103.3 422.1 L107.1 419.2 L126.0 406.6 L129.7 404.2 L151.2 393.3 L154.7 392.1 L181.6 385.7 L200.8 382.5 L230.9 379.1 L266.9 377.7 L269.6 377.3 L272.2 376.3 L295.0 362.0 L299.9 360.4 L316.5 356.3 L321.1 356.5 L349.8 361.5 L356.1 362.2 L368.3 354.7 L372.3 351.6 L382.0 343.4 L387.7 336.7 L389.6 335.2 L393.4 334.5 M-78.9 537.5 L-34.9 522.2 L10.7 500.7 L70.2 471.8 L74.5 469.5 L82.9 463.5 L87.1 461.1 L103.5 448.6 L107.5 446.1 L130.8 433.5 L153.0 426.1 L170.7 423.7 L191.0 418.9 L210.4 413.2 L228.9 406.8 L237.9 404.3 L252.3 401.2 L269.1 398.4 L271.8 397.3 L290.3 386.0 L295.4 383.3 L315.3 378.3 L320.0 378.2 L358.4 383.8 L379.1 385.3 L383.1 383.3 L392.8 377.2 L406.1 367.3 L418.7 354.8 L424.0 350.1 L427.5 350.7 M-74.7 549.7 L2.2 540.6 L55.6 513.8 L73.6 504.4 L78.0 501.8 L86.8 495.8 L91.0 492.3 L107.9 477.4 L116.0 470.8 L128.1 464.6 L132.0 462.9 L151.2 456.4 L154.9 455.7 L194.1 451.6 L204.1 449.8 L214.0 447.1 L223.6 443.4 L257.1 428.8 L268.6 424.5 L271.4 423.0 L293.2 408.2 L295.9 406.8 L301.1 404.9 L313.9 401.2 L318.9 400.5 L335.8 401.9 L358.6 404.5 L375.9 405.3 L382.1 406.0 L400.2 406.3 L402.1 406.6 L406.0 404.8 L415.4 399.5 L422.8 394.7 L428.2 390.3 L440.4 378.6 L445.5 375.0 L450.5 372.6 L457.1 371.1 L458.7 371.3 L461.9 372.7 M-76.3 554.7 L81.8 535.8 L86.3 534.6 L99.6 526.3 L112.5 517.3 L149.2 489.7 L160.8 486.3 L179.4 482.1 L211.1 477.3 L221.2 475.4 L234.2 472.0 L243.7 468.7 L253.0 464.9 L268.0 457.6 L273.8 453.6 L290.8 440.3 L296.3 436.5 L304.5 432.3 L315.0 427.6 L317.6 426.8 L322.7 426.0 L335.2 425.1 L383.3 426.1 L399.9 425.8 L407.9 426.3 L425.2 425.9 L439.8 415.9 L457.1 405.3 L460.5 402.5 L471.9 390.8 L479.8 384.1 L490.5 377.9 L493.4 378.7 M-78.0 560.2 L159.1 530.7 L163.1 528.8 L182.4 514.7 L208.0 506.5 L254.9 493.9 L270.4 488.6 L279.5 483.6 L296.9 472.3 L316.2 460.7 L324.2 457.3 L332.0 454.7 L344.6 451.5 L366.3 448.1 L399.6 445.8 L405.8 445.8 L420.0 445.1 L441.0 442.2 L448.3 441.7 L457.2 436.4 L460.7 433.9 L483.9 412.5 L493.3 404.9 L502.4 398.5 L511.2 393.1 L518.3 390.2 L522.4 389.2 L525.2 390.7 M-79.9 566.2 L250.4 523.4 L253.7 522.7 L288.5 509.6 L306.2 501.9 L344.4 484.2 L362.0 477.4 L371.7 474.2 L388.1 470.0 L399.2 467.6 L420.5 464.7 L440.4 461.0 L457.2 458.7 L460.9 457.9 L471.4 454.3 L481.7 445.2 L493.1 435.9 L510.2 422.5 L514.7 419.5 L526.3 413.3 L542.7 406.1 L551.9 402.9 L554.4 403.7 M-75.0 571.7 L352.1 514.1 L354.7 513.4 L389.6 498.0 L403.4 492.6 L414.5 488.9 L437.7 482.0 L461.1 476.3 L481.0 469.5 L494.6 465.3 L510.7 451.8 L521.5 444.2 L541.7 431.7 L560.5 421.5 L581.4 402.4 L583.8 402.0 M-76.8 578.7 L436.8 506.3 L482.0 488.9 L506.4 480.5 L517.8 476.9 L537.7 461.3 L561.6 444.8 L583.4 423.8 L597.6 407.9 L608.7 394.4 L609.8 393.7 L610.9 393.5 M-78.9 586.4 L508.5 499.8 L541.0 487.7 L560.1 472.0 L572.4 460.7 L585.5 447.9 L597.8 434.1 L612.8 416.2 L632.1 396.1 L636.1 392.8 L638.1 393.6 M-73.2 593.6 L565.7 494.8 L567.1 493.9 L575.6 486.0 L590.4 471.2 L613.8 444.8 L634.9 421.8 L645.2 413.6 L656.0 406.2 L661.6 403.3 L662.5 403.3 L664.4 404.2 M-75.3 602.8 L599.6 493.0 L633.6 454.6 L649.7 438.9 L655.8 433.6 L663.6 428.0 L685.4 415.1 M-77.6 613.1 L630.8 491.6 L632.0 490.8 L641.3 479.8 L650.2 470.0 L665.9 454.6 L672.7 448.8 L690.2 435.2 L703.7 425.9 M-70.9 622.9 L661.9 490.1 L674.5 476.5 L696.4 455.4 L709.3 445.1 L715.8 440.8 L722.0 437.3 M-73.3 635.7 L690.7 488.8 L691.7 488.2 L708.4 471.2 L717.9 462.8 L729.9 454.1 L740.4 448.2 M-75.9 650.2 L719.3 487.3 L731.2 476.1 L739.9 469.0 L748.9 463.2 L758.8 458.6 M-78.9 666.8 L745.9 486.1 L755.9 478.3 L762.4 473.9 L769.3 470.4 L777.2 467.8 M-70.3 683.2 L772.2 484.8 L779.2 480.5 L785.1 477.5 L790.1 475.6 L795.6 474.3 M-73.3 705.1 L796.9 483.6 L806.1 480.0 L814.0 477.7 M-76.9 731.0 L832.5 479.3 M-65.6 757.5 L850.9 479.3 M-69.1 794.6 L869.4 479.3 M-73.4 840.8 L887.9 479.4 M-78.9 900.1 L906.4 479.4 M-60.9 966.4 L924.9 479.4 M-66.0 1070.9 L943.5 479.4 M27.1 1152.6 L962.0 479.5 M255.2 1156.7 L980.6 479.5 M502.3 1139.0 L999.2 479.5 M728.9 1142.9 L1017.8 479.5 M958.0 1146.9 L1036.4 479.5 M1189.6 1150.9 L1055.1 479.6 M1423.9 1155.0 L1073.8 479.6 M1660.8 1159.1 L1092.4 479.6 M1875.1 1141.3 L1111.1 479.6 M1996.7 1068.2 L1129.8 479.5 M1982.5 945.3 L1151.4 481.3 L1148.6 471.8 M1990.1 869.7 L1172.9 482.4 L1167.3 463.4 M1995.7 813.2 L1195.6 483.7 L1186.1 455.1 M1986.6 764.4 L1218.8 484.8 L1204.9 446.2 M1991.3 730.3 L1243.5 486.2 L1243.0 485.6 L1223.6 436.9 M1995.3 702.3 L1268.6 487.5 L1242.5 427.6 M1998.5 679.0 L1295.5 489.0 L1294.7 488.3 L1289.9 478.4 L1271.2 438.4 L1261.3 418.3 M1992.0 656.9 L1322.8 490.4 L1309.8 465.7 L1289.7 425.4 L1281.9 410.6 L1280.1 408.0 M1995.0 640.3 L1352.1 492.1 L1351.2 491.2 L1343.3 478.5 L1334.2 463.1 L1326.4 448.5 L1312.0 419.5 L1300.9 399.8 L1299.0 397.2 M1997.6 625.8 L1381.9 493.5 L1367.3 474.0 L1357.5 458.9 L1341.0 430.4 L1317.9 387.5 M1999.9 613.2 L1414.1 495.4 L1403.1 483.5 L1390.7 469.2 L1382.9 459.3 L1371.8 444.2 L1364.0 431.6 L1351.7 409.2 L1336.8 384.6 M1994.9 600.6 L1447.9 497.3 L1446.7 496.9 L1413.1 465.0 L1407.9 459.6 L1400.8 451.2 L1391.1 438.4 L1370.0 408.0 L1355.7 382.8 M1997.0 590.8 L1482.2 499.1 L1462.0 480.9 L1437.8 462.5 L1427.8 453.4 L1418.3 443.9 L1410.2 435.3 L1404.4 428.0 L1394.2 414.0 L1377.1 389.2 L1374.6 388.3 M1999.0 582.0 L1518.0 500.8 L1501.4 486.0 L1488.7 475.5 L1480.6 469.5 L1455.6 452.5 L1439.8 440.6 L1417.2 418.2 L1409.6 410.0 L1402.3 400.6 L1400.5 399.8 M1994.8 573.1 L1557.3 503.1 L1555.6 502.5 L1537.3 486.5 L1520.3 473.6 L1510.0 466.5 L1475.5 443.8 L1440.5 419.2 L1429.4 408.8 L1426.5 408.0 M1996.6 566.0 L1597.0 505.2 L1595.1 504.1 L1583.9 493.7 L1573.1 484.5 L1564.5 477.7 L1556.1 471.8 L1543.3 463.9 L1526.6 455.5 L1515.2 448.9 L1504.3 441.8 L1484.0 427.1 L1468.7 416.9 L1457.7 410.0 L1456.6 409.5 L1454.5 409.7 M1998.3 559.5 L1638.6 507.3 L1636.5 505.5 L1626.2 494.2 L1616.2 484.7 L1606.6 476.8 L1597.3 470.4 L1581.3 460.8 L1571.1 455.3 L1559.7 450.1 L1539.8 441.9 L1528.3 436.4 L1522.8 432.9 L1499.3 416.1 L1486.1 407.1 L1482.6 407.2 M1999.9 553.6 L1682.5 509.6 L1662.2 485.5 L1651.4 473.9 L1639.0 463.0 L1627.1 454.9 L1617.6 449.8 L1612.0 447.3 L1602.9 444.4 L1587.3 440.5 L1561.5 431.3 L1552.5 427.1 L1528.6 414.5 L1516.8 406.9 L1515.5 406.3 L1513.0 406.3 M1996.3 547.5 L1728.7 511.7 L1696.9 473.7 L1683.2 458.6 L1670.0 446.3 L1661.6 439.8 L1653.3 434.3 L1649.3 432.2 L1641.4 428.8 L1635.5 427.0 L1626.1 424.8 L1613.4 423.3 L1592.9 422.2 L1588.0 421.3 L1573.8 415.0 L1547.5 401.1 L1543.3 401.8 M1997.8 542.6 L1780.3 514.8 L1777.4 513.6 L1729.9 458.5 L1715.4 442.8 L1708.4 436.0 L1699.2 428.3 L1692.5 423.5 L1683.8 417.9 L1675.3 413.2 L1667.0 409.3 L1653.1 404.3 L1649.2 403.6 L1641.6 403.0 L1619.9 403.0 L1606.3 401.8 L1591.7 398.8 L1588.6 397.7 L1580.9 393.4 L1579.4 393.0 L1576.4 393.3 M1999.2 538.0 L1832.1 517.5 L1829.0 515.5 L1813.7 497.7 L1787.7 468.4 L1771.4 450.1 L1758.2 436.1 L1743.1 421.9 L1733.4 413.9 L1723.9 407.3 L1712.5 400.6 L1699.2 394.3 L1686.5 389.3 L1674.2 385.4 L1664.3 383.1 L1652.9 381.1 L1633.0 380.0 L1624.3 378.3 L1614.3 375.7 L1611.0 377.1 M1996.1 533.2 L1887.0 520.3 L1883.5 517.4 L1866.8 497.3 L1850.6 479.1 L1803.1 428.2 L1786.6 411.9 L1776.1 402.7 L1768.4 397.0 L1760.8 392.3 L1750.9 387.3 L1723.0 375.9 L1711.9 371.8 L1697.1 367.3 L1667.4 359.9 L1658.1 356.8 L1650.9 353.9 L1649.1 354.1 L1645.6 355.8 M1997.4 529.3 L1945.2 523.3 L1941.4 519.7 L1922.9 499.5 L1878.3 448.5 L1847.0 416.2 L1832.1 401.5 L1817.9 388.4 L1806.8 379.8 L1798.7 374.6 L1788.2 369.1 L1773.0 363.6 L1739.7 354.8 L1719.9 348.2 L1687.3 338.1 L1683.5 339.6 M1998.7 518.4 L1963.0 484.0 L1922.9 442.8 L1912.6 431.2 L1876.6 388.4 L1858.2 370.2 L1849.4 362.7 L1843.5 358.3 L1837.8 354.5 L1829.4 349.9 L1821.1 346.3 L1813.0 343.6 L1802.5 341.1 L1782.2 337.0 L1756.1 330.4 L1740.4 326.0 L1727.5 321.1 L1725.4 321.4 L1721.2 323.3 M1999.9 466.4 L1984.2 452.6 L1961.6 431.8 L1947.1 417.8 L1936.6 406.8 L1919.5 387.0 L1899.9 360.5 L1884.2 340.9 L1878.1 334.3 L1872.1 329.8 L1860.3 322.8 L1854.5 320.4 L1848.8 318.6 L1840.4 316.8 L1816.2 313.8 L1803.4 311.4 L1783.8 305.6 L1769.8 300.2 L1767.5 299.8 L1762.9 302.1 M1997.1 417.8 L1989.5 411.9 L1978.3 402.1 L1963.8 388.0 L1956.7 380.5 L1949.7 372.7 L1936.1 356.3 L1903.7 314.0 L1894.5 304.3 L1882.4 293.6 L1879.5 291.7 L1876.5 290.6 L1867.8 288.7 L1859.3 287.3 L1840.1 285.5 L1829.6 283.6 L1821.8 281.2 L1811.8 277.4 L1809.3 278.0 L1804.4 280.1 M1998.2 376.1 L1987.2 366.5 L1976.4 355.2 L1932.4 304.5 L1910.4 281.3 L1901.3 272.7 L1883.6 260.7 L1880.7 259.0 L1877.9 257.8 L1869.5 256.1 L1855.8 252.3 L1850.4 255.5 M1999.3 333.2 L1988.6 323.3 L1967.9 301.5 L1954.5 288.2 L1938.4 273.4 L1919.8 257.7 L1904.8 242.9 L1901.9 241.0 L1896.1 241.6 M1996.8 290.4 L1989.9 285.3 L1953.5 254.6 L1950.4 253.4 L1947.2 253.4 M1997.9 262.6 L1994.5 263.2 M-5.0 347.8 L11.5 346.2 L15.5 347.3 L16.0 346.1 L19.5 346.8 L20.0 345.9 L23.5 346.3 L24.0 345.7 L27.5 345.8 L38.5 344.7 L42.5 344.8 L45.5 345.8 L46.5 344.9 L49.5 345.5 L50.0 344.8 L53.0 345.2 L53.5 344.7 L74.5 343.9 L78.0 342.2 L81.5 339.7 L86.5 335.0 L99.0 318.3 L102.0 315.5 L102.5 313.6 L105.5 311.3 L106.0 309.7 L109.0 307.7 L122.5 295.7 L123.5 295.5 L126.0 293.3 L128.5 292.8 L129.0 291.2 L132.0 290.9 L132.5 289.8 L139.5 288.1 L148.0 284.9 L149.0 285.2 L151.5 284.6 L154.0 286.3 L154.5 285.2 L157.0 286.8 L157.5 286.5 L160.0 287.8 L172.5 291.9 L176.0 293.5 L178.5 295.5 L179.0 294.9 L181.5 296.7 L182.0 296.3 L188.0 299.2 L196.5 302.5 L199.5 304.2 L202.0 306.3 L202.5 305.8 L204.5 307.3 L205.0 307.0 L211.0 309.9 L222.0 313.2 L224.5 314.9 L225.0 314.3 L227.0 315.5 L227.5 315.1 L229.5 316.1 L243.5 320.0 L246.0 321.6 L246.5 321.0 L248.5 322.2 L249.0 321.9 L251.0 322.8 L262.0 324.9 L267.0 326.8 L267.5 326.4 L269.5 326.6 L272.5 325.7 L284.5 318.3 L287.0 317.8 L287.5 316.7 L289.0 316.3 L290.0 315.2 L291.5 314.8 L292.0 314.0 L294.0 313.5 L294.5 312.8 L296.5 312.0 L304.0 310.8 L306.5 311.6 L307.0 310.5 L314.5 309.5 L316.5 310.9 L317.0 309.6 L322.0 312.0 L324.0 314.1 L324.5 312.3 L326.5 314.2 L327.0 313.2 L332.0 316.1 L334.0 318.3 L334.5 316.6 L336.0 318.0 L336.5 317.2 L337.0 317.4 L342.0 320.2 L344.0 322.7 L344.5 321.0 L346.0 322.4 L346.5 321.3 L351.5 324.2 L353.5 326.4 L354.0 324.9 L355.5 326.1 L356.0 324.9 L361.5 327.7 L363.0 329.4 L363.5 327.6 L365.0 328.8 L365.5 327.3 L371.0 330.3 L372.5 332.0 L373.0 330.1 L374.5 331.3 L375.0 329.7 L380.0 332.7 L382.0 334.7 L382.5 333.0 L384.0 334.0 L384.5 332.5 L389.5 335.1 L391.0 336.7 L391.5 335.1 L393.0 336.0 L393.5 334.6 L398.5 337.3 L400.5 339.5 L401.0 337.6 L407.5 344.2 L408.0 341.9 L409.5 343.5 L410.0 342.0 L415.0 345.9 L416.5 347.8 L417.0 346.0 L418.5 347.6 L419.0 346.4 L424.0 350.1 L425.5 351.8 L426.0 350.4 L427.0 351.3 L427.5 350.7 L432.5 353.6 L434.0 355.1 L434.5 355.3 L435.0 354.7 L436.0 355.6 L436.5 355.2 L441.5 358.3 L443.0 360.2 L443.5 359.8 L450.0 364.9 L451.5 366.6 L452.0 366.5 L460.0 372.1 L467.0 373.1 L468.5 373.7 L475.5 374.2 L477.0 374.9 L482.0 375.6 L483.5 376.6 L484.0 375.9 L490.5 378.0 L491.5 378.7 L492.0 378.2 L498.5 380.1 L500.0 381.2 L500.5 380.8 L506.5 382.4 L508.0 383.4 L509.5 383.4 L514.5 385.2 L523.5 390.1 L530.0 393.0 L531.5 394.1 L545.5 399.9 L553.0 403.7 L553.5 403.4 L560.5 406.0 L582.5 402.5 L611.0 393.5 L616.5 393.4 L617.0 392.8 L618.0 392.8 L623.5 393.0 L624.0 392.5 L630.5 392.2 L636.0 392.7 L656.0 400.1 L675.0 409.9 L675.5 409.8 L680.5 412.2 L749.5 453.6 L772.5 465.7 L795.5 474.3 L800.0 475.6 L805.5 476.5 M1138.5 476.3 L1195.5 450.8 L1266.0 416.0 L1313.0 389.2 L1318.0 387.5 L1351.0 382.4 L1355.5 382.8 L1370.0 386.7 L1383.0 391.0 L1408.5 403.7 L1434.5 409.9 L1441.5 410.9 L1485.0 407.1 L1522.5 406.4 L1530.0 405.7 L1551.0 399.8 L1553.0 399.8 L1559.5 397.7 L1561.5 397.8 L1568.0 395.5 L1569.5 395.9 L1576.0 393.5 L1576.5 393.7 L1577.5 393.3 L1578.0 393.8 L1584.5 391.4 L1585.0 391.7 L1586.0 391.3 L1586.5 391.9 L1593.5 387.8 L1595.0 387.1 L1595.5 387.5 L1602.0 382.8 L1602.5 383.0 L1603.5 382.1 L1604.0 382.6 L1611.0 377.1 L1611.5 377.4 L1618.0 372.7 L1619.5 372.1 L1620.0 372.5 L1627.0 367.1 L1629.5 366.6 L1636.0 361.7 L1636.5 361.9 L1638.0 360.7 L1638.5 361.1 L1645.5 355.9 L1646.0 356.0 L1647.0 355.3 L1647.5 355.7 L1649.0 354.2 L1654.5 351.0 L1655.0 351.4 L1656.5 350.4 L1657.0 351.0 L1658.5 349.8 L1664.0 347.3 L1664.5 347.5 L1666.0 346.7 L1666.5 347.2 L1668.0 345.9 L1675.5 342.9 L1676.0 343.4 L1677.5 342.1 L1683.0 339.8 L1685.0 339.1 L1685.5 339.7 L1687.5 338.0 L1693.0 335.7 L1693.5 335.9 L1695.5 334.6 L1703.0 331.3 L1703.5 331.5 L1705.5 330.2 L1713.0 326.9 L1713.5 327.2 L1715.5 325.8 L1723.0 322.5 L1723.5 322.9 L1725.5 321.4 L1733.5 317.9 L1734.0 318.3 L1736.0 316.8 L1743.5 313.1 L1744.5 313.2 L1746.5 311.4 L1752.0 308.2 L1752.5 308.4 L1754.5 306.9 L1755.0 307.6 L1757.0 305.6 L1762.5 302.3 L1763.0 302.7 L1765.0 301.1 L1765.5 301.9 L1767.5 299.8 L1773.5 296.3 L1774.0 296.8 L1776.0 295.3 L1776.5 296.1 L1778.5 294.0 L1784.5 290.6 L1785.0 291.1 L1787.0 289.4 L1793.0 285.9 L1795.5 284.9 L1796.0 285.6 L1798.0 283.8 L1804.0 280.3 L1804.5 280.5 L1806.5 279.3 L1807.0 280.1 L1809.5 277.8 L1815.5 274.4 L1816.0 274.6 L1818.0 273.3 L1818.5 274.2 L1821.0 271.9 L1827.0 268.5 L1827.5 268.7 L1829.5 267.3 L1830.0 268.2 L1832.5 265.7 L1838.5 262.2 L1839.0 262.4 L1841.0 260.9 L1841.5 261.8 L1844.0 259.0 L1850.0 255.8 L1850.5 256.0 L1853.0 254.0 L1853.5 255.0 L1856.0 252.2 L1862.0 249.2 L1862.5 249.6 L1865.0 247.6 L1868.0 246.0 L1874.0 243.3 L1874.5 243.7 L1877.0 241.5 L1879.5 241.2 L1880.0 240.7 L1886.5 240.6 L1887.0 241.2 L1889.5 240.4 L1894.5 241.3 L1898.5 241.2 L1899.5 241.9 L1902.0 241.0 L1907.5 243.5 L1911.5 244.4 L1912.0 245.3 L1914.5 244.9 L1920.5 247.7 L1925.0 248.3" stroke-opacity="0.14"/>
</g>
<g fill="none" stroke="#2aa7e1" stroke-width="1.3" stroke-dasharray="12 12">
<path d="M498.5 400.5 V174.5 H1196"/>
<path d="M562 441.5 H887"/>
<path d="M1043 441.5 H1368"/>
<path d="M543.5 531.5 L769.7 624.5"/>
</g>
<g id="tower">
<rect x="493.2" y="424" width="2.6" height="26" fill="#f2f2ea"/>
<rect x="503" y="433" width="2.5" height="17" fill="#f2f2ea"/>
<rect x="487.3" y="449" width="23.8" height="10.5" fill="#f7f7ef"/>
<rect x="482" y="459" width="34.8" height="4.8" fill="#e2e2da"/>
<rect x="483" y="463.6" width="32.2" height="3.4" fill="#cfcfc8"/>
<line x1="486.5" y1="467" x2="469.8" y2="626" stroke="#e3e3db" stroke-width="2.7"/>
<line x1="513.5" y1="467" x2="528.2" y2="626" stroke="#e3e3db" stroke-width="2.7"/>
<line x1="498.5" y1="467" x2="483.2" y2="626" stroke="#e3e3db" stroke-width="2.7"/>
<line x1="501.5" y1="467" x2="516.8" y2="626" stroke="#e3e3db" stroke-width="2.7"/>
<line x1="486.2" y1="469.6" x2="513.7" y2="469.6" stroke="#e3e3db" stroke-width="2.0"/>
<line x1="485.9" y1="472.4" x2="514.0" y2="472.4" stroke="#e3e3db" stroke-width="2.0"/>
<line x1="483.0" y1="500.2" x2="516.6" y2="500.2" stroke="#e3e3db" stroke-width="2.0"/>
<line x1="482.7" y1="503.6" x2="516.9" y2="503.6" stroke="#e3e3db" stroke-width="2.0"/>
<line x1="479.7" y1="531.3" x2="519.4" y2="531.3" stroke="#e3e3db" stroke-width="2.0"/>
<line x1="479.4" y1="534.8" x2="519.8" y2="534.8" stroke="#e3e3db" stroke-width="2.0"/>
<line x1="476.4" y1="562.8" x2="522.4" y2="562.8" stroke="#e3e3db" stroke-width="2.0"/>
<line x1="476.1" y1="566.3" x2="522.7" y2="566.3" stroke="#e3e3db" stroke-width="2.0"/>
<line x1="473.1" y1="594.3" x2="525.3" y2="594.3" stroke="#e3e3db" stroke-width="2.0"/>
<line x1="472.8" y1="597.8" x2="525.6" y2="597.8" stroke="#e3e3db" stroke-width="2.0"/>
<line x1="497.8" y1="474" x2="483.2" y2="498.5" stroke="#cfcfc8" stroke-width="2.1"/>
<line x1="502.2" y1="474" x2="516.4" y2="498.5" stroke="#cfcfc8" stroke-width="2.1"/>
<line x1="494.8" y1="505.5" x2="479.9" y2="529.5" stroke="#cfcfc8" stroke-width="2.1"/>
<line x1="505.2" y1="505.5" x2="519.3" y2="529.5" stroke="#cfcfc8" stroke-width="2.1"/>
<line x1="491.8" y1="537" x2="476.6" y2="560.8" stroke="#cfcfc8" stroke-width="2.1"/>
<line x1="508.2" y1="537" x2="522.2" y2="560.8" stroke="#cfcfc8" stroke-width="2.1"/>
<line x1="488.7" y1="568.5" x2="473.3" y2="592.3" stroke="#cfcfc8" stroke-width="2.1"/>
<line x1="511.3" y1="568.5" x2="525.1" y2="592.3" stroke="#cfcfc8" stroke-width="2.1"/>
<line x1="485.7" y1="600" x2="470.0" y2="624" stroke="#cfcfc8" stroke-width="2.1"/>
<line x1="514.3" y1="600" x2="528.0" y2="624" stroke="#cfcfc8" stroke-width="2.1"/>
<rect x="465.3" y="626" width="21.7" height="4.2" fill="#5c5c5a"/>
<rect x="512" y="626" width="22" height="4.2" fill="#5c5c5a"/>
<rect x="512.5" y="480.5" width="4" height="1.5" fill="#d8d8d0"/><rect x="512.5" y="491" width="4" height="1.5" fill="#d8d8d0"/>
<rect x="515.8" y="476.4" width="5.4" height="19.6" rx="1.6" fill="#e2e2da"/>
<rect x="477" y="544" width="4" height="1.5" fill="#d8d8d0"/><rect x="477" y="553" width="4" height="1.5" fill="#d8d8d0"/>
<rect x="471.4" y="539.8" width="6" height="18.7" rx="1.6" fill="#e2e2da"/>
</g>
<g id="cloud">
<defs>
<linearGradient id="cg1" x1="925" y1="405" x2="1005" y2="460" gradientUnits="userSpaceOnUse">
<stop offset="0" stop-color="#0d3797"/><stop offset="0.55" stop-color="#12479f"/><stop offset="0.8" stop-color="#17709a"/><stop offset="1" stop-color="#1d86b0"/></linearGradient>
<linearGradient id="cg2" x1="908" y1="0" x2="1017" y2="0" gradientUnits="userSpaceOnUse">
<stop offset="0" stop-color="#10388f"/><stop offset="0.12" stop-color="#154aa2"/><stop offset="0.4" stop-color="#1a62b2"/><stop offset="0.72" stop-color="#1e72bd"/><stop offset="0.86" stop-color="#2387c9"/><stop offset="1" stop-color="#2bace2"/></linearGradient>
<linearGradient id="cg3" x1="915" y1="0" x2="1015" y2="0" gradientUnits="userSpaceOnUse">
<stop offset="0" stop-color="#0a2538"/><stop offset="0.55" stop-color="#11445c"/><stop offset="0.82" stop-color="#1a6888"/><stop offset="1" stop-color="#2aa0cc"/></linearGradient>
<clipPath id="cclipo"><rect x="900" y="390" width="130" height="76.3"/></clipPath>
<clipPath id="cclipi"><rect x="900" y="390" width="130" height="71.6"/></clipPath>
<clipPath id="cshape"><circle cx="961.2" cy="431.3" r="29.5"/><circle cx="928" cy="443" r="19.6"/><circle cx="999.5" cy="449.8" r="17.8"/><rect x="924" y="440" width="76" height="27" rx="4"/></clipPath>
</defs>
<g clip-path="url(#cclipo)" fill="url(#cg1)">
<circle cx="961.2" cy="431.3" r="29.5"/><circle cx="928" cy="443" r="19.6"/><circle cx="999.5" cy="449.8" r="17.8"/>
<rect x="924" y="440" width="76" height="27" rx="4"/>
</g>
<g clip-path="url(#cclipo)"><rect x="905" y="455" width="115" height="12" fill="url(#cg3)" clip-path="url(#cshape)"/></g>
<g clip-path="url(#cclipi)" fill="url(#cg2)">
<circle cx="962.4" cy="433" r="26.2"/><circle cx="930.5" cy="444.6" r="16.9"/><circle cx="1000.6" cy="451.2" r="16"/>
<rect x="930" y="444" width="71" height="18"/>
</g>
</g>
<g id="drone">
<path d="M1271 176 Q1265 186 1263.5 204" fill="none" stroke="#2c2c34" stroke-width="1.7"/>
<path d="M1295 176 Q1300 186 1302.5 204" fill="none" stroke="#2c2c34" stroke-width="1.7"/>
<path d="M1235 167.5 Q1258 164.5 1283 165.5 Q1308 164.5 1331 167.5" fill="none" stroke="#9aa4b8" stroke-width="1.1"/>
<path d="M1232 172.5 Q1236 170 1240 170.5 L1270 169 L1296 169 L1326 170.5 Q1330 170 1334 172.5 Q1330 175 1326 174 L1296 174.5 L1270 174.5 L1240 174 Q1236 175 1232 172.5 Z" fill="#1c28b6"/>
<ellipse cx="1283" cy="169.5" rx="11.5" ry="6" fill="#1f2fc2"/>
<ellipse cx="1283" cy="166.5" rx="7" ry="3" fill="#2a3ad0"/>
<ellipse cx="1257" cy="170" rx="5.5" ry="3.2" fill="#1e2cbe"/><ellipse cx="1307" cy="170" rx="5.5" ry="3.2" fill="#1e2cbe"/>
<ellipse cx="1236.5" cy="172.3" rx="4.6" ry="2.8" fill="#2434c8"/><ellipse cx="1329.5" cy="172.3" rx="4.6" ry="2.8" fill="#2434c8"/>
<rect x="1276" y="174" width="14" height="3" fill="#14188a"/>
<circle cx="1283" cy="180.5" r="2.6" fill="#1a1a26"/>
<path d="M1277.6 186 L1279.3 180.5 L1281.2 183.8 L1284.8 183.8 L1286.7 180.5 L1288.4 186" fill="none" stroke="#c84a4a" stroke-width="1.3"/>
<rect x="1282.4" y="166.5" width="1.2" height="4" fill="#e0e4ff"/>
</g>
<g id="building">
<ellipse cx="1429.5" cy="641.3" rx="103.5" ry="18.7" fill="#77878d" fill-opacity="0.85"/>
<rect x="1346" y="571" width="34.5" height="71.5" fill="#eef0f2"/>
<rect x="1380.3" y="571.5" width="8.6" height="72" fill="#dfe4ea"/>
<rect x="1349.5" y="579.5" width="2.6" height="3.8" fill="#5d8cb4"/>
<rect x="1352.9" y="579.5" width="2.6" height="3.8" fill="#5d8cb4"/>
<rect x="1356.3" y="579.5" width="2.6" height="3.8" fill="#5d8cb4"/>
<rect x="1359.7" y="579.5" width="2.6" height="3.8" fill="#5d8cb4"/>
<rect x="1363.1" y="579.5" width="2.6" height="3.8" fill="#5d8cb4"/>
<rect x="1366.5" y="579.5" width="2.6" height="3.8" fill="#5d8cb4"/>
<rect x="1369.9" y="579.5" width="2.6" height="3.8" fill="#5d8cb4"/>
<rect x="1349.5" y="584.8" width="2.6" height="3.8" fill="#5d8cb4"/>
<rect x="1352.9" y="584.8" width="2.6" height="3.8" fill="#5d8cb4"/>
<rect x="1359.7" y="584.8" width="2.6" height="3.8" fill="#5d8cb4"/>
<rect x="1366.5" y="584.8" width="2.6" height="3.8" fill="#5d8cb4"/>
<rect x="1369.9" y="584.8" width="2.6" height="3.8" fill="#5d8cb4"/>
<rect x="1373.3" y="584.8" width="2.6" height="3.8" fill="#5d8cb4"/>
<rect x="1349.5" y="590.1" width="2.6" height="3.8" fill="#5d8cb4"/>
<rect x="1356.3" y="590.1" width="2.6" height="3.8" fill="#5d8cb4"/>
<rect x="1359.7" y="590.1" width="2.6" height="3.8" fill="#5d8cb4"/>
<rect x="1363.1" y="590.1" width="2.6" height="3.8" fill="#5d8cb4"/>
<rect x="1366.5" y="590.1" width="2.6" height="3.8" fill="#5d8cb4"/>
<rect x="1369.9" y="590.1" width="2.6" height="3.8" fill="#5d8cb4"/>
<rect x="1373.3" y="590.1" width="2.6" height="3.8" fill="#5d8cb4"/>
<rect x="1349.5" y="595.4" width="2.6" height="3.8" fill="#5d8cb4"/>
<rect x="1352.9" y="595.4" width="2.6" height="3.8" fill="#5d8cb4"/>
<rect x="1359.7" y="595.4" width="2.6" height="3.8" fill="#5d8cb4"/>
<rect x="1363.1" y="595.4" width="2.6" height="3.8" fill="#5d8cb4"/>
<rect x="1369.9" y="595.4" width="2.6" height="3.8" fill="#5d8cb4"/>
<rect x="1349.5" y="600.7" width="2.6" height="3.8" fill="#5d8cb4"/>
<rect x="1356.3" y="600.7" width="2.6" height="3.8" fill="#5d8cb4"/>
<rect x="1366.5" y="600.7" width="2.6" height="3.8" fill="#5d8cb4"/>
<rect x="1369.9" y="600.7" width="2.6" height="3.8" fill="#5d8cb4"/>
<rect x="1373.3" y="600.7" width="2.6" height="3.8" fill="#5d8cb4"/>
<rect x="1352.9" y="606.0" width="2.6" height="3.8" fill="#5d8cb4"/>
<rect x="1356.3" y="606.0" width="2.6" height="3.8" fill="#5d8cb4"/>
<rect x="1359.7" y="606.0" width="2.6" height="3.8" fill="#5d8cb4"/>
<rect x="1363.1" y="606.0" width="2.6" height="3.8" fill="#5d8cb4"/>
<rect x="1366.5" y="606.0" width="2.6" height="3.8" fill="#5d8cb4"/>
<rect x="1369.9" y="606.0" width="2.6" height="3.8" fill="#5d8cb4"/>
<rect x="1373.3" y="606.0" width="2.6" height="3.8" fill="#5d8cb4"/>
<rect x="1349.5" y="611.3" width="2.6" height="3.8" fill="#5d8cb4"/>
<rect x="1356.3" y="611.3" width="2.6" height="3.8" fill="#5d8cb4"/>
<rect x="1369.9" y="611.3" width="2.6" height="3.8" fill="#5d8cb4"/>
<rect x="1373.3" y="611.3" width="2.6" height="3.8" fill="#5d8cb4"/>
<rect x="1359.7" y="616.6" width="2.6" height="3.8" fill="#5d8cb4"/>
<rect x="1363.1" y="616.6" width="2.6" height="3.8" fill="#5d8cb4"/>
<rect x="1366.5" y="616.6" width="2.6" height="3.8" fill="#5d8cb4"/>
<rect x="1373.3" y="616.6" width="2.6" height="3.8" fill="#5d8cb4"/>
<rect x="1349.5" y="621.9" width="2.6" height="3.8" fill="#5d8cb4"/>
<rect x="1352.9" y="621.9" width="2.6" height="3.8" fill="#5d8cb4"/>
<rect x="1363.1" y="621.9" width="2.6" height="3.8" fill="#5d8cb4"/>
<rect x="1369.9" y="621.9" width="2.6" height="3.8" fill="#5d8cb4"/>
<rect x="1373.3" y="621.9" width="2.6" height="3.8" fill="#5d8cb4"/>
<rect x="1349.5" y="627.2" width="2.6" height="3.8" fill="#5d8cb4"/>
<rect x="1352.9" y="627.2" width="2.6" height="3.8" fill="#5d8cb4"/>
<rect x="1359.7" y="627.2" width="2.6" height="3.8" fill="#5d8cb4"/>
<rect x="1363.1" y="627.2" width="2.6" height="3.8" fill="#5d8cb4"/>
<rect x="1366.5" y="627.2" width="2.6" height="3.8" fill="#5d8cb4"/>
<rect x="1369.9" y="627.2" width="2.6" height="3.8" fill="#5d8cb4"/>
<rect x="1373.3" y="627.2" width="2.6" height="3.8" fill="#5d8cb4"/>
<rect x="1383.3" y="585.0" width="2.6" height="3.6" fill="#55595e"/>
<rect x="1383.3" y="590.4" width="2.6" height="3.6" fill="#55595e"/>
<rect x="1383.3" y="595.8" width="2.6" height="3.6" fill="#55595e"/>
<rect x="1383.3" y="601.2" width="2.6" height="3.6" fill="#55595e"/>
<rect x="1383.3" y="606.6" width="2.6" height="3.6" fill="#55595e"/>
<rect x="1383.3" y="612.0" width="2.6" height="3.6" fill="#55595e"/>
<rect x="1383.3" y="617.4" width="2.6" height="3.6" fill="#55595e"/>
<rect x="1383.3" y="622.8" width="2.6" height="3.6" fill="#55595e"/>
<rect x="1383.3" y="628.2" width="2.6" height="3.6" fill="#55595e"/>
<defs><linearGradient id="blf" x1="1389" y1="0" x2="1430" y2="0" gradientUnits="userSpaceOnUse"><stop offset="0" stop-color="#dedede"/><stop offset="0.6" stop-color="#cfcfcf"/><stop offset="1" stop-color="#b4b4b4"/></linearGradient></defs>
<polygon points="1388.7,466.3 1430,430.5 1430,645.5 1388.7,642.5" fill="url(#blf)"/>
<polygon points="1430,430.5 1468.2,467.5 1468.2,643.5 1430,645.5" fill="#f3f4f5"/>
<rect x="1392.9" y="472.4" width="3.2" height="163.6" fill="#4f7ea3"/>
<rect x="1399.5" y="470.3" width="3.2" height="165.7" fill="#4f7ea3"/>
<rect x="1406.2" y="468.2" width="3.2" height="167.8" fill="#4f7ea3"/>
<rect x="1413.0" y="466.0" width="3.2" height="170.0" fill="#4f7ea3"/>
<rect x="1419.9" y="463.8" width="3.2" height="172.2" fill="#4f7ea3"/>
<rect x="1435.0" y="463.9" width="3.2" height="172.1" fill="#4f7ea3"/>
<rect x="1442.0" y="466.2" width="3.2" height="169.8" fill="#4f7ea3"/>
<rect x="1448.7" y="468.4" width="3.2" height="167.6" fill="#4f7ea3"/>
<rect x="1455.0" y="470.5" width="3.2" height="165.5" fill="#4f7ea3"/>
<rect x="1460.5" y="472.3" width="3.2" height="163.7" fill="#4f7ea3"/>
<polygon points="1468.5,575 1512.5,579.5 1512.5,643.8 1468.5,643.8" fill="#eef0f3"/>
<polygon points="1468.2,575 1475,575.7 1475,643.8 1468.2,643.8" fill="#dfe3e8"/>
<polygon points="1476,585.5 1510,586.7 1510,588.7 1476,587.7" fill="#4f7da4"/>
<polygon points="1476,590.5 1510,591.7 1510,593.7 1476,592.7" fill="#4f7da4"/>
<polygon points="1476,595.5 1510,596.7 1510,598.7 1476,597.7" fill="#4f7da4"/>
<polygon points="1476,600.5 1510,601.7 1510,603.7 1476,602.7" fill="#4f7da4"/>
<polygon points="1476,605.5 1510,606.7 1510,608.7 1476,607.7" fill="#4f7da4"/>
<polygon points="1476,610.5 1510,611.7 1510,613.7 1476,612.7" fill="#4f7da4"/>
<polygon points="1476,615.5 1510,616.7 1510,618.7 1476,617.7" fill="#4f7da4"/>
<polygon points="1476,620.5 1510,621.7 1510,623.7 1476,622.7" fill="#4f7da4"/>
<polygon points="1476,625.5 1510,626.7 1510,628.7 1476,627.7" fill="#4f7da4"/>
<polygon points="1476,630.5 1510,631.7 1510,633.7 1476,632.7" fill="#4f7da4"/>
<rect x="1429.4" y="409.5" width="1.3" height="21" fill="#1e8ad0"/>
<path d="M1430.5 410.5 Q1434 409 1438 411 Q1442 412.5 1445.3 411 L1445.3 421.5 Q1441.5 423 1438 421.5 Q1434 420 1430.5 421.5 Z" fill="#1e8fd8"/>
</g>
<g id="machine">
<defs>
<linearGradient id="mb" x1="0" y1="675" x2="0" y2="808" gradientUnits="userSpaceOnUse"><stop offset="0" stop-color="#cdd4e4"/><stop offset="1" stop-color="#c6ccda"/></linearGradient>
<linearGradient id="mp" x1="789" y1="0" x2="1005" y2="0" gradientUnits="userSpaceOnUse"><stop offset="0" stop-color="#b2bbd1"/><stop offset="0.45" stop-color="#c0c7d8"/><stop offset="1" stop-color="#b6bdd0"/></linearGradient>
<linearGradient id="md" x1="0" y1="741" x2="0" y2="806" gradientUnits="userSpaceOnUse"><stop offset="0" stop-color="#bcc0cc"/><stop offset="1" stop-color="#b8bcc8"/></linearGradient>
<linearGradient id="msh" x1="700" y1="0" x2="790" y2="0" gradientUnits="userSpaceOnUse"><stop offset="0" stop-color="#000" stop-opacity="0"/><stop offset="1" stop-color="#000" stop-opacity="0.8"/></linearGradient>
<linearGradient id="ml" x1="0" y1="664" x2="0" y2="674" gradientUnits="userSpaceOnUse"><stop offset="0" stop-color="#c4d2ee"/><stop offset="1" stop-color="#b2c2e2"/></linearGradient>
<linearGradient id="mr" x1="0" y1="664" x2="0" y2="675" gradientUnits="userSpaceOnUse"><stop offset="0" stop-color="#bcc3d6"/><stop offset="1" stop-color="#aab2c6"/></linearGradient>
</defs>
<path d="M700 812 Q740 800 790 800 L790 818 Q740 820 700 812 Z" fill="url(#msh)"/>
<rect x="787" y="806" width="221.3" height="13.8" fill="#08080a"/>
<rect x="787" y="806" width="18" height="13.8" fill="#1c1d22"/><rect x="990" y="806" width="18.3" height="13.8" fill="#1c1d22"/>
<rect x="782.2" y="675.6" width="229.6" height="131.9" fill="url(#mb)"/>
<rect x="786.1" y="686" width="221.7" height="44.3" rx="4" fill="#0e2068"/>
<rect x="789" y="690.3" width="216" height="37" rx="3" fill="url(#mp)"/>
<rect x="789" y="689" width="129" height="3" fill="url(#mp)"/>
<line x1="802" y1="693" x2="872.3" y2="693" stroke="#4ef06a" stroke-width="1.8"/>
<rect x="933" y="696.1" width="26.2" height="8.7" fill="#1a2a78"/>
<text x="946.1" y="703.3" font-size="7.6" font-family="Liberation Sans" fill="#d8def0" text-anchor="middle" letter-spacing="-0.2">SU-RO</text>
<g fill="#22306e"><rect x="961" y="697.3" width="5" height="6.3"/><rect x="967.5" y="697.3" width="5" height="6.3"/><rect x="974" y="697.3" width="5" height="6.3"/><rect x="980.5" y="697.3" width="5" height="6.3"/><rect x="987" y="697.3" width="5" height="6.3"/><rect x="993.5" y="697.3" width="5" height="6.3"/></g>
<rect x="961" y="704.6" width="37" height="0.8" fill="#6a74a0"/>
<rect x="786.7" y="735.2" width="221.3" height="64.5" rx="4" fill="#0e2068"/>
<rect x="789.3" y="738" width="215.7" height="69" rx="2" fill="#d9e0ec"/>
<rect x="789.3" y="738" width="85" height="1.2" fill="#0e2068"/>
<rect x="789.5" y="741" width="102.9" height="64.3" rx="2.5" fill="url(#md)"/>
<rect x="790.5" y="741" width="101" height="1.2" fill="#d8e0ee"/>
<rect x="900.9" y="743" width="101.5" height="63.2" rx="2.5" fill="url(#md)"/>
<rect x="902" y="743" width="99.4" height="1.2" fill="#d8e0ee"/>
<rect x="892.4" y="741" width="2.2" height="64" fill="#9ea4b2"/>
<rect x="883.9" y="765.4" width="3.9" height="17.3" rx="0.6" fill="#111114"/>
<rect x="905.2" y="765.4" width="3.6" height="17.3" rx="0.6" fill="#111114"/>
<path d="M992.6 793.8 L997.2 801.9 L988 801.9 Z" fill="#e6d21e"/>
<rect x="992.2" y="796.5" width="0.9" height="3" fill="#333"/>
<rect x="837" y="666.7" width="115.1" height="8.6" fill="#cfe0f2"/>
<rect x="837" y="666.7" width="115.1" height="1.3" fill="#8a94a8"/>
<rect x="837" y="673.5" width="115.1" height="1.8" fill="#e6f0fa"/>
<rect x="724.2" y="664" width="113" height="10.2" fill="url(#ml)"/>
<rect x="724.2" y="662" width="113" height="2.2" fill="#f0f5ff"/>
<rect x="724.2" y="674" width="113" height="0.8" fill="#5a6070"/>
<rect x="952.1" y="664.5" width="115.3" height="10.3" fill="url(#mr)"/>
<rect x="952.1" y="662.6" width="115.3" height="2.2" fill="#f4f6fa"/>
<rect x="952.1" y="664.5" width="2.6" height="10.3" fill="#8e96a8"/>
<rect x="952.1" y="674.6" width="115.3" height="0.8" fill="#5a6070"/>
<path d="M837 667 L840 663 L853 662 L854 667 L841 668 L841 678.5 L838 679 Z" fill="#2c3038"/>
</g>
<g id="pole">
<rect x="1120" y="810.5" width="38.8" height="3.8" fill="#c9cdd4"/>
<rect x="1127.2" y="689.2" width="27.3" height="121.8" fill="#bfc3cb"/>
<polygon points="1127.2,689.2 1154.5,689.2 1154.5,740 1127.2,780" fill="#d3d6dc"/>
<rect x="1130.5" y="695" width="19.5" height="50" fill="#c8ccd3" stroke="#b0b4bc" stroke-width="0.6"/>
<rect x="1127.2" y="786.7" width="27.3" height="24.3" fill="#15214f"/>
<path d="M1128 789.5 L1138 789.5 L1141 787.5 L1154 787.5" stroke="#9aa6c8" stroke-width="0.8" fill="none"/>
<path d="M1139.6 713.5 L1143.2 720.2 L1136 720.2 Z" fill="#f2d22a" stroke="#444" stroke-width="0.3"/>
<rect x="1127.2" y="574.5" width="3.8" height="114.7" fill="#c0c4cc"/>
<rect x="1150.7" y="574.5" width="3.8" height="114.7" fill="#b6bac2"/>
<rect x="1127.2" y="559.3" width="27.3" height="15.2" fill="#c4c8d0"/>
<rect x="1127.2" y="559.3" width="27.3" height="6" fill="#d6d9df"/>
<circle cx="1140.5" cy="577.5" r="3.2" fill="#2a2c32"/>
<rect x="1131.5" y="541" width="6" height="18" rx="1.5" fill="#1f2226"/>
<rect x="1144.5" y="541" width="6" height="18" rx="1.5" fill="#1f2226"/>
<rect x="1130" y="538.5" width="8.5" height="1.5" fill="#2c3036"/><rect x="1143.5" y="538.5" width="8.5" height="1.5" fill="#2c3036"/>
<rect x="1139.3" y="528" width="3.2" height="32" fill="#d8dde4"/>
<rect x="1132.1" y="520" width="16.6" height="8.8" rx="3.5" fill="#eceef2"/>
</g>
<g font-family="Liberation Sans" font-weight="bold" font-size="67" fill="#2aa7e1" stroke="#2aa7e1" stroke-width="1.0" stroke-linejoin="round">
<text transform="translate(613.15 926.09) rotate(8.33) scale(1.057 1)" x="-22.00" y="0">S</text>
<text transform="translate(656.55 932.02) rotate(7.22) scale(1.089 1)" x="-20.38" y="0">u</text>
<text transform="translate(693.05 936.34) rotate(6.29) scale(1.223 1)" x="-14.75" y="0">r</text>
<text transform="translate(722.25 939.37) rotate(5.55) scale(1.233 1)" x="-11.75" y="0">f</text>
<text transform="translate(755.00 942.31) rotate(4.72) scale(0.920 1)" x="-19.88" y="0">a</text>
<text transform="translate(791.50 945.03) rotate(3.79) scale(1.007 1)" x="-18.88" y="0">c</text>
<text transform="translate(830.10 947.26) rotate(2.82) scale(1.158 1)" x="-18.75" y="0">e</text>
<text transform="translate(884.05 949.27) rotate(1.45) scale(1.250 1)" x="-11.75" y="0">f</text>
<text transform="translate(908.15 949.75) rotate(0.85) scale(1.250 1)" x="-9.38" y="0">i</text>
<text transform="translate(937.70 950.00) rotate(0.10) scale(1.122 1)" x="-20.62" y="0">n</text>
<text transform="translate(979.20 949.69) rotate(-0.95) scale(1.106 1)" x="-18.75" y="0">e</text>
<text transform="translate(1026.95 948.39) rotate(-2.16) scale(1.220 1)" x="-9.38" y="0">i</text>
<text transform="translate(1056.15 947.11) rotate(-2.90) scale(1.120 1)" x="-20.62" y="0">n</text>
<text transform="translate(1097.40 944.64) rotate(-3.94) scale(0.961 1)" x="-18.50" y="0">s</text>
<text transform="translate(1136.35 941.62) rotate(-4.93) scale(1.081 1)" x="-21.38" y="0">p</text>
<text transform="translate(1178.40 937.60) rotate(-5.99) scale(1.067 1)" x="-18.75" y="0">e</text>
<text transform="translate(1219.20 932.95) rotate(-7.03) scale(0.966 1)" x="-18.88" y="0">c</text>
<text transform="translate(1249.45 929.01) rotate(-7.80) scale(1.032 1)" x="-11.12" y="0">t</text>
<text transform="translate(1273.15 925.64) rotate(-8.41) scale(1.250 1)" x="-9.38" y="0">i</text>
<text transform="translate(1304.55 920.77) rotate(-9.21) scale(1.033 1)" x="-20.38" y="0">o</text>
<text transform="translate(1346.10 913.64) rotate(-10.27) scale(1.189 1)" x="-20.62" y="0">n</text>
</g>
</svg>
<div class="lbl" style="left:805.5px;top:133.5px;font-weight:normal;font-size:20.5px;letter-spacing:0.45px">Data transmission</div>
<div class="lbl" style="left:211.5px;top:437px;letter-spacing:0.53px">Signal base station</div>
<div class="lbl" style="left:817.5px;top:480px;letter-spacing:0.4px">Cloud data processing</div>
<div class="lbl" style="left:1507px;top:469px;letter-spacing:0.48px">Command center</div>
</body></html>
